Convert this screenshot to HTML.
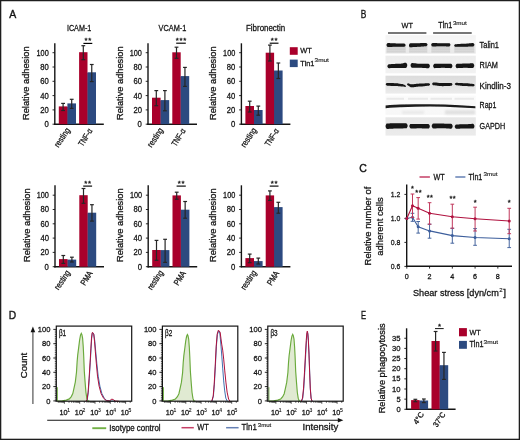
<!DOCTYPE html>
<html><head><meta charset="utf-8"><style>
html,body{margin:0;padding:0;background:#fff;}
svg{display:block;font-family:"Liberation Sans", sans-serif;filter:blur(0.35px);}
text{stroke:#141414;stroke-width:0.28px;}
</style></head><body>
<svg width="520" height="440" viewBox="0 0 520 440">
<rect width="520" height="440" fill="#fff"/>
<rect x="0.65" y="0.6" width="518.7" height="438.75" fill="none" stroke="#1e1e1e" stroke-width="1.3"/>
<text x="9.25" y="17.60" font-size="11.8" text-anchor="start" fill="#141414" textLength="7.00" lengthAdjust="spacingAndGlyphs" style="stroke-width:0.4px">A</text>
<text x="360.75" y="17.90" font-size="11.8" text-anchor="start" fill="#141414" textLength="5.60" lengthAdjust="spacingAndGlyphs" style="stroke-width:0.4px">B</text>
<text x="359.15" y="171.90" font-size="11.8" text-anchor="start" fill="#141414" textLength="7.60" lengthAdjust="spacingAndGlyphs" style="stroke-width:0.4px">C</text>
<text x="8.85" y="318.70" font-size="11.8" text-anchor="start" fill="#141414" textLength="7.40" lengthAdjust="spacingAndGlyphs" style="stroke-width:0.4px">D</text>
<text x="360.95" y="318.70" font-size="11.8" text-anchor="start" fill="#141414" textLength="5.10" lengthAdjust="spacingAndGlyphs" style="stroke-width:0.4px">E</text>
<line x1="54.80" y1="43.30" x2="54.80" y2="124.90" stroke="#141414" stroke-width="1.4"/>
<line x1="54.10" y1="124.20" x2="103.80" y2="124.20" stroke="#141414" stroke-width="1.4"/>
<line x1="52.50" y1="124.20" x2="54.80" y2="124.20" stroke="#141414" stroke-width="0.9"/>
<text x="48.70" y="127.10" font-size="8.3" text-anchor="end" fill="#141414" textLength="4.30" lengthAdjust="spacingAndGlyphs">0</text>
<line x1="52.50" y1="109.90" x2="54.80" y2="109.90" stroke="#141414" stroke-width="0.9"/>
<text x="48.70" y="112.80" font-size="8.3" text-anchor="end" fill="#141414" textLength="8.50" lengthAdjust="spacingAndGlyphs">20</text>
<line x1="52.50" y1="95.60" x2="54.80" y2="95.60" stroke="#141414" stroke-width="0.9"/>
<text x="48.70" y="98.50" font-size="8.3" text-anchor="end" fill="#141414" textLength="8.50" lengthAdjust="spacingAndGlyphs">40</text>
<line x1="52.50" y1="81.30" x2="54.80" y2="81.30" stroke="#141414" stroke-width="0.9"/>
<text x="48.70" y="84.20" font-size="8.3" text-anchor="end" fill="#141414" textLength="8.50" lengthAdjust="spacingAndGlyphs">60</text>
<line x1="52.50" y1="67.00" x2="54.80" y2="67.00" stroke="#141414" stroke-width="0.9"/>
<text x="48.70" y="69.90" font-size="8.3" text-anchor="end" fill="#141414" textLength="8.50" lengthAdjust="spacingAndGlyphs">80</text>
<line x1="52.50" y1="52.70" x2="54.80" y2="52.70" stroke="#141414" stroke-width="0.9"/>
<text x="48.70" y="55.60" font-size="8.3" text-anchor="end" fill="#141414" textLength="12.20" lengthAdjust="spacingAndGlyphs">100</text>
<rect x="58.80" y="106.40" width="8.60" height="17.80" fill="#a9002b"/>
<rect x="67.20" y="107.00" width="1.00" height="17.20" fill="#a9002b"/>
<rect x="67.40" y="103.40" width="8.60" height="20.80" fill="#2c4a80"/>
<rect x="79.10" y="52.20" width="8.40" height="72.00" fill="#a9002b"/>
<rect x="87.30" y="72.90" width="1.00" height="51.30" fill="#a9002b"/>
<rect x="87.50" y="72.30" width="8.50" height="51.90" fill="#2c4a80"/>
<line x1="63.10" y1="103.40" x2="63.10" y2="110.50" stroke="#262626" stroke-width="1.2"/>
<line x1="61.20" y1="103.40" x2="65.00" y2="103.40" stroke="#262626" stroke-width="1.2"/>
<line x1="61.20" y1="110.50" x2="65.00" y2="110.50" stroke="#262626" stroke-width="1.2"/>
<line x1="71.70" y1="99.30" x2="71.70" y2="108.40" stroke="#262626" stroke-width="1.2"/>
<line x1="69.80" y1="99.30" x2="73.60" y2="99.30" stroke="#262626" stroke-width="1.2"/>
<line x1="69.80" y1="108.40" x2="73.60" y2="108.40" stroke="#262626" stroke-width="1.2"/>
<line x1="83.30" y1="45.70" x2="83.30" y2="59.70" stroke="#262626" stroke-width="1.2"/>
<line x1="81.40" y1="45.70" x2="85.20" y2="45.70" stroke="#262626" stroke-width="1.2"/>
<line x1="81.40" y1="59.70" x2="85.20" y2="59.70" stroke="#262626" stroke-width="1.2"/>
<line x1="91.75" y1="64.50" x2="91.75" y2="81.60" stroke="#262626" stroke-width="1.2"/>
<line x1="89.85" y1="64.50" x2="93.65" y2="64.50" stroke="#262626" stroke-width="1.2"/>
<line x1="89.85" y1="81.60" x2="93.65" y2="81.60" stroke="#262626" stroke-width="1.2"/>
<line x1="83.40" y1="43.40" x2="92.30" y2="43.40" stroke="#000" stroke-width="1.15"/>
<text x="86.02" y="43.44" font-size="7.8" text-anchor="middle" fill="#141414">*</text>
<text x="89.67" y="43.44" font-size="7.8" text-anchor="middle" fill="#141414">*</text>
<text x="66.90" y="31.10" font-size="8.7" text-anchor="start" fill="#141414" textLength="24.40" lengthAdjust="spacingAndGlyphs">ICAM-1</text>
<text transform="translate(29.40,83.20) rotate(-90)" font-size="9.0" text-anchor="middle" fill="#141414" textLength="73.60" lengthAdjust="spacingAndGlyphs">Relative adhesion</text>
<text transform="translate(70.40,130.20) rotate(-56)" font-size="8.6" text-anchor="end" fill="#141414" textLength="21.50" lengthAdjust="spacingAndGlyphs">resting</text>
<text transform="translate(92.80,130.80) rotate(-58)" font-size="8.6" text-anchor="end" fill="#141414" textLength="19.00" lengthAdjust="spacingAndGlyphs">TNF-α</text>
<line x1="148.00" y1="43.30" x2="148.00" y2="124.90" stroke="#141414" stroke-width="1.4"/>
<line x1="147.30" y1="124.20" x2="197.00" y2="124.20" stroke="#141414" stroke-width="1.4"/>
<line x1="145.70" y1="124.20" x2="148.00" y2="124.20" stroke="#141414" stroke-width="0.9"/>
<text x="141.90" y="127.10" font-size="8.3" text-anchor="end" fill="#141414" textLength="4.30" lengthAdjust="spacingAndGlyphs">0</text>
<line x1="145.70" y1="109.90" x2="148.00" y2="109.90" stroke="#141414" stroke-width="0.9"/>
<text x="141.90" y="112.80" font-size="8.3" text-anchor="end" fill="#141414" textLength="8.50" lengthAdjust="spacingAndGlyphs">20</text>
<line x1="145.70" y1="95.60" x2="148.00" y2="95.60" stroke="#141414" stroke-width="0.9"/>
<text x="141.90" y="98.50" font-size="8.3" text-anchor="end" fill="#141414" textLength="8.50" lengthAdjust="spacingAndGlyphs">40</text>
<line x1="145.70" y1="81.30" x2="148.00" y2="81.30" stroke="#141414" stroke-width="0.9"/>
<text x="141.90" y="84.20" font-size="8.3" text-anchor="end" fill="#141414" textLength="8.50" lengthAdjust="spacingAndGlyphs">60</text>
<line x1="145.70" y1="67.00" x2="148.00" y2="67.00" stroke="#141414" stroke-width="0.9"/>
<text x="141.90" y="69.90" font-size="8.3" text-anchor="end" fill="#141414" textLength="8.50" lengthAdjust="spacingAndGlyphs">80</text>
<line x1="145.70" y1="52.70" x2="148.00" y2="52.70" stroke="#141414" stroke-width="0.9"/>
<text x="141.90" y="55.60" font-size="8.3" text-anchor="end" fill="#141414" textLength="12.20" lengthAdjust="spacingAndGlyphs">100</text>
<rect x="152.00" y="97.70" width="8.60" height="26.50" fill="#a9002b"/>
<rect x="160.40" y="100.70" width="1.00" height="23.50" fill="#a9002b"/>
<rect x="160.60" y="100.10" width="8.60" height="24.10" fill="#2c4a80"/>
<rect x="172.30" y="52.30" width="8.40" height="71.90" fill="#a9002b"/>
<rect x="180.50" y="76.70" width="1.00" height="47.50" fill="#a9002b"/>
<rect x="180.70" y="76.10" width="8.50" height="48.10" fill="#2c4a80"/>
<line x1="156.30" y1="90.60" x2="156.30" y2="105.70" stroke="#262626" stroke-width="1.2"/>
<line x1="154.40" y1="90.60" x2="158.20" y2="90.60" stroke="#262626" stroke-width="1.2"/>
<line x1="154.40" y1="105.70" x2="158.20" y2="105.70" stroke="#262626" stroke-width="1.2"/>
<line x1="164.90" y1="90.60" x2="164.90" y2="110.80" stroke="#262626" stroke-width="1.2"/>
<line x1="163.00" y1="90.60" x2="166.80" y2="90.60" stroke="#262626" stroke-width="1.2"/>
<line x1="163.00" y1="110.80" x2="166.80" y2="110.80" stroke="#262626" stroke-width="1.2"/>
<line x1="176.50" y1="47.20" x2="176.50" y2="58.30" stroke="#262626" stroke-width="1.2"/>
<line x1="174.60" y1="47.20" x2="178.40" y2="47.20" stroke="#262626" stroke-width="1.2"/>
<line x1="174.60" y1="58.30" x2="178.40" y2="58.30" stroke="#262626" stroke-width="1.2"/>
<line x1="184.95" y1="67.40" x2="184.95" y2="86.40" stroke="#262626" stroke-width="1.2"/>
<line x1="183.05" y1="67.40" x2="186.85" y2="67.40" stroke="#262626" stroke-width="1.2"/>
<line x1="183.05" y1="86.40" x2="186.85" y2="86.40" stroke="#262626" stroke-width="1.2"/>
<line x1="176.20" y1="43.20" x2="185.80" y2="43.20" stroke="#000" stroke-width="1.15"/>
<text x="177.35" y="43.24" font-size="7.8" text-anchor="middle" fill="#141414">*</text>
<text x="181.00" y="43.24" font-size="7.8" text-anchor="middle" fill="#141414">*</text>
<text x="184.65" y="43.24" font-size="7.8" text-anchor="middle" fill="#141414">*</text>
<text x="158.50" y="31.10" font-size="8.7" text-anchor="start" fill="#141414" textLength="27.80" lengthAdjust="spacingAndGlyphs">VCAM-1</text>
<text transform="translate(122.60,83.20) rotate(-90)" font-size="9.0" text-anchor="middle" fill="#141414" textLength="73.60" lengthAdjust="spacingAndGlyphs">Relative adhesion</text>
<text transform="translate(163.60,130.20) rotate(-56)" font-size="8.6" text-anchor="end" fill="#141414" textLength="21.50" lengthAdjust="spacingAndGlyphs">resting</text>
<text transform="translate(186.00,130.80) rotate(-58)" font-size="8.6" text-anchor="end" fill="#141414" textLength="19.00" lengthAdjust="spacingAndGlyphs">TNF-α</text>
<line x1="241.40" y1="43.30" x2="241.40" y2="124.90" stroke="#141414" stroke-width="1.4"/>
<line x1="240.70" y1="124.20" x2="290.40" y2="124.20" stroke="#141414" stroke-width="1.4"/>
<line x1="239.10" y1="124.20" x2="241.40" y2="124.20" stroke="#141414" stroke-width="0.9"/>
<text x="235.30" y="127.10" font-size="8.3" text-anchor="end" fill="#141414" textLength="4.30" lengthAdjust="spacingAndGlyphs">0</text>
<line x1="239.10" y1="109.90" x2="241.40" y2="109.90" stroke="#141414" stroke-width="0.9"/>
<text x="235.30" y="112.80" font-size="8.3" text-anchor="end" fill="#141414" textLength="8.50" lengthAdjust="spacingAndGlyphs">20</text>
<line x1="239.10" y1="95.60" x2="241.40" y2="95.60" stroke="#141414" stroke-width="0.9"/>
<text x="235.30" y="98.50" font-size="8.3" text-anchor="end" fill="#141414" textLength="8.50" lengthAdjust="spacingAndGlyphs">40</text>
<line x1="239.10" y1="81.30" x2="241.40" y2="81.30" stroke="#141414" stroke-width="0.9"/>
<text x="235.30" y="84.20" font-size="8.3" text-anchor="end" fill="#141414" textLength="8.50" lengthAdjust="spacingAndGlyphs">60</text>
<line x1="239.10" y1="67.00" x2="241.40" y2="67.00" stroke="#141414" stroke-width="0.9"/>
<text x="235.30" y="69.90" font-size="8.3" text-anchor="end" fill="#141414" textLength="8.50" lengthAdjust="spacingAndGlyphs">80</text>
<line x1="239.10" y1="52.70" x2="241.40" y2="52.70" stroke="#141414" stroke-width="0.9"/>
<text x="235.30" y="55.60" font-size="8.3" text-anchor="end" fill="#141414" textLength="12.20" lengthAdjust="spacingAndGlyphs">100</text>
<rect x="245.40" y="106.00" width="8.60" height="18.20" fill="#a9002b"/>
<rect x="253.80" y="110.60" width="1.00" height="13.60" fill="#a9002b"/>
<rect x="254.00" y="110.00" width="8.60" height="14.20" fill="#2c4a80"/>
<rect x="265.70" y="52.70" width="8.40" height="71.50" fill="#a9002b"/>
<rect x="273.90" y="71.10" width="1.00" height="53.10" fill="#a9002b"/>
<rect x="274.10" y="70.50" width="8.50" height="53.70" fill="#2c4a80"/>
<line x1="249.70" y1="101.20" x2="249.70" y2="112.00" stroke="#262626" stroke-width="1.2"/>
<line x1="247.80" y1="101.20" x2="251.60" y2="101.20" stroke="#262626" stroke-width="1.2"/>
<line x1="247.80" y1="112.00" x2="251.60" y2="112.00" stroke="#262626" stroke-width="1.2"/>
<line x1="258.30" y1="106.10" x2="258.30" y2="115.20" stroke="#262626" stroke-width="1.2"/>
<line x1="256.40" y1="106.10" x2="260.20" y2="106.10" stroke="#262626" stroke-width="1.2"/>
<line x1="256.40" y1="115.20" x2="260.20" y2="115.20" stroke="#262626" stroke-width="1.2"/>
<line x1="269.90" y1="45.10" x2="269.90" y2="61.00" stroke="#262626" stroke-width="1.2"/>
<line x1="268.00" y1="45.10" x2="271.80" y2="45.10" stroke="#262626" stroke-width="1.2"/>
<line x1="268.00" y1="61.00" x2="271.80" y2="61.00" stroke="#262626" stroke-width="1.2"/>
<line x1="278.35" y1="63.00" x2="278.35" y2="78.50" stroke="#262626" stroke-width="1.2"/>
<line x1="276.45" y1="63.00" x2="280.25" y2="63.00" stroke="#262626" stroke-width="1.2"/>
<line x1="276.45" y1="78.50" x2="280.25" y2="78.50" stroke="#262626" stroke-width="1.2"/>
<line x1="269.70" y1="43.20" x2="278.50" y2="43.20" stroke="#000" stroke-width="1.15"/>
<text x="272.28" y="43.24" font-size="7.8" text-anchor="middle" fill="#141414">*</text>
<text x="275.93" y="43.24" font-size="7.8" text-anchor="middle" fill="#141414">*</text>
<text x="246.00" y="31.10" font-size="8.7" text-anchor="start" fill="#141414" textLength="39.20" lengthAdjust="spacingAndGlyphs">Fibronectin</text>
<text transform="translate(216.00,83.20) rotate(-90)" font-size="9.0" text-anchor="middle" fill="#141414" textLength="73.60" lengthAdjust="spacingAndGlyphs">Relative adhesion</text>
<text transform="translate(257.00,130.20) rotate(-56)" font-size="8.6" text-anchor="end" fill="#141414" textLength="21.50" lengthAdjust="spacingAndGlyphs">resting</text>
<text transform="translate(279.40,130.80) rotate(-58)" font-size="8.6" text-anchor="end" fill="#141414" textLength="19.00" lengthAdjust="spacingAndGlyphs">TNF-α</text>
<line x1="55.00" y1="185.30" x2="55.00" y2="267.40" stroke="#141414" stroke-width="1.4"/>
<line x1="54.30" y1="266.70" x2="104.00" y2="266.70" stroke="#141414" stroke-width="1.4"/>
<line x1="52.70" y1="266.70" x2="55.00" y2="266.70" stroke="#141414" stroke-width="0.9"/>
<text x="48.90" y="269.60" font-size="8.3" text-anchor="end" fill="#141414" textLength="4.30" lengthAdjust="spacingAndGlyphs">0</text>
<line x1="52.70" y1="252.40" x2="55.00" y2="252.40" stroke="#141414" stroke-width="0.9"/>
<text x="48.90" y="255.30" font-size="8.3" text-anchor="end" fill="#141414" textLength="8.50" lengthAdjust="spacingAndGlyphs">20</text>
<line x1="52.70" y1="238.10" x2="55.00" y2="238.10" stroke="#141414" stroke-width="0.9"/>
<text x="48.90" y="241.00" font-size="8.3" text-anchor="end" fill="#141414" textLength="8.50" lengthAdjust="spacingAndGlyphs">40</text>
<line x1="52.70" y1="223.80" x2="55.00" y2="223.80" stroke="#141414" stroke-width="0.9"/>
<text x="48.90" y="226.70" font-size="8.3" text-anchor="end" fill="#141414" textLength="8.50" lengthAdjust="spacingAndGlyphs">60</text>
<line x1="52.70" y1="209.50" x2="55.00" y2="209.50" stroke="#141414" stroke-width="0.9"/>
<text x="48.90" y="212.40" font-size="8.3" text-anchor="end" fill="#141414" textLength="8.50" lengthAdjust="spacingAndGlyphs">80</text>
<line x1="52.70" y1="195.20" x2="55.00" y2="195.20" stroke="#141414" stroke-width="0.9"/>
<text x="48.90" y="198.10" font-size="8.3" text-anchor="end" fill="#141414" textLength="12.20" lengthAdjust="spacingAndGlyphs">100</text>
<rect x="59.00" y="259.10" width="8.60" height="7.60" fill="#a9002b"/>
<rect x="67.40" y="260.20" width="1.00" height="6.50" fill="#a9002b"/>
<rect x="67.60" y="259.60" width="8.60" height="7.10" fill="#2c4a80"/>
<rect x="79.30" y="195.20" width="8.40" height="71.50" fill="#a9002b"/>
<rect x="87.50" y="213.30" width="1.00" height="53.40" fill="#a9002b"/>
<rect x="87.70" y="212.70" width="8.50" height="54.00" fill="#2c4a80"/>
<line x1="63.30" y1="255.50" x2="63.30" y2="263.40" stroke="#262626" stroke-width="1.2"/>
<line x1="61.40" y1="255.50" x2="65.20" y2="255.50" stroke="#262626" stroke-width="1.2"/>
<line x1="61.40" y1="263.40" x2="65.20" y2="263.40" stroke="#262626" stroke-width="1.2"/>
<line x1="71.90" y1="257.20" x2="71.90" y2="262.00" stroke="#262626" stroke-width="1.2"/>
<line x1="70.00" y1="257.20" x2="73.80" y2="257.20" stroke="#262626" stroke-width="1.2"/>
<line x1="70.00" y1="262.00" x2="73.80" y2="262.00" stroke="#262626" stroke-width="1.2"/>
<line x1="83.50" y1="188.50" x2="83.50" y2="203.30" stroke="#262626" stroke-width="1.2"/>
<line x1="81.60" y1="188.50" x2="85.40" y2="188.50" stroke="#262626" stroke-width="1.2"/>
<line x1="81.60" y1="203.30" x2="85.40" y2="203.30" stroke="#262626" stroke-width="1.2"/>
<line x1="91.95" y1="204.70" x2="91.95" y2="221.10" stroke="#262626" stroke-width="1.2"/>
<line x1="90.05" y1="204.70" x2="93.85" y2="204.70" stroke="#262626" stroke-width="1.2"/>
<line x1="90.05" y1="221.10" x2="93.85" y2="221.10" stroke="#262626" stroke-width="1.2"/>
<line x1="83.20" y1="186.10" x2="92.10" y2="186.10" stroke="#000" stroke-width="1.15"/>
<text x="85.83" y="186.14" font-size="7.8" text-anchor="middle" fill="#141414">*</text>
<text x="89.48" y="186.14" font-size="7.8" text-anchor="middle" fill="#141414">*</text>
<text x="0.00" y="173.60" font-size="8.7" text-anchor="start" fill="#141414" textLength="1.00" lengthAdjust="spacingAndGlyphs"></text>
<text transform="translate(29.60,225.20) rotate(-90)" font-size="9.0" text-anchor="middle" fill="#141414" textLength="73.60" lengthAdjust="spacingAndGlyphs">Relative adhesion</text>
<text transform="translate(70.60,272.70) rotate(-56)" font-size="8.6" text-anchor="end" fill="#141414" textLength="21.50" lengthAdjust="spacingAndGlyphs">resting</text>
<text transform="translate(93.00,273.30) rotate(-58)" font-size="8.6" text-anchor="end" fill="#141414" textLength="15.00" lengthAdjust="spacingAndGlyphs">PMA</text>
<line x1="148.20" y1="185.30" x2="148.20" y2="267.40" stroke="#141414" stroke-width="1.4"/>
<line x1="147.50" y1="266.70" x2="197.20" y2="266.70" stroke="#141414" stroke-width="1.4"/>
<line x1="145.90" y1="266.70" x2="148.20" y2="266.70" stroke="#141414" stroke-width="0.9"/>
<text x="142.10" y="269.60" font-size="8.3" text-anchor="end" fill="#141414" textLength="4.30" lengthAdjust="spacingAndGlyphs">0</text>
<line x1="145.90" y1="252.40" x2="148.20" y2="252.40" stroke="#141414" stroke-width="0.9"/>
<text x="142.10" y="255.30" font-size="8.3" text-anchor="end" fill="#141414" textLength="8.50" lengthAdjust="spacingAndGlyphs">20</text>
<line x1="145.90" y1="238.10" x2="148.20" y2="238.10" stroke="#141414" stroke-width="0.9"/>
<text x="142.10" y="241.00" font-size="8.3" text-anchor="end" fill="#141414" textLength="8.50" lengthAdjust="spacingAndGlyphs">40</text>
<line x1="145.90" y1="223.80" x2="148.20" y2="223.80" stroke="#141414" stroke-width="0.9"/>
<text x="142.10" y="226.70" font-size="8.3" text-anchor="end" fill="#141414" textLength="8.50" lengthAdjust="spacingAndGlyphs">60</text>
<line x1="145.90" y1="209.50" x2="148.20" y2="209.50" stroke="#141414" stroke-width="0.9"/>
<text x="142.10" y="212.40" font-size="8.3" text-anchor="end" fill="#141414" textLength="8.50" lengthAdjust="spacingAndGlyphs">80</text>
<line x1="145.90" y1="195.20" x2="148.20" y2="195.20" stroke="#141414" stroke-width="0.9"/>
<text x="142.10" y="198.10" font-size="8.3" text-anchor="end" fill="#141414" textLength="12.20" lengthAdjust="spacingAndGlyphs">100</text>
<rect x="152.20" y="250.00" width="8.60" height="16.70" fill="#a9002b"/>
<rect x="160.60" y="250.70" width="1.00" height="16.00" fill="#a9002b"/>
<rect x="160.80" y="250.10" width="8.60" height="16.60" fill="#2c4a80"/>
<rect x="172.50" y="195.40" width="8.40" height="71.30" fill="#a9002b"/>
<rect x="180.70" y="210.30" width="1.00" height="56.40" fill="#a9002b"/>
<rect x="180.90" y="209.70" width="8.50" height="57.00" fill="#2c4a80"/>
<line x1="156.50" y1="240.40" x2="156.50" y2="260.30" stroke="#262626" stroke-width="1.2"/>
<line x1="154.60" y1="240.40" x2="158.40" y2="240.40" stroke="#262626" stroke-width="1.2"/>
<line x1="154.60" y1="260.30" x2="158.40" y2="260.30" stroke="#262626" stroke-width="1.2"/>
<line x1="165.10" y1="239.30" x2="165.10" y2="262.40" stroke="#262626" stroke-width="1.2"/>
<line x1="163.20" y1="239.30" x2="167.00" y2="239.30" stroke="#262626" stroke-width="1.2"/>
<line x1="163.20" y1="262.40" x2="167.00" y2="262.40" stroke="#262626" stroke-width="1.2"/>
<line x1="176.70" y1="192.20" x2="176.70" y2="199.20" stroke="#262626" stroke-width="1.2"/>
<line x1="174.80" y1="192.20" x2="178.60" y2="192.20" stroke="#262626" stroke-width="1.2"/>
<line x1="174.80" y1="199.20" x2="178.60" y2="199.20" stroke="#262626" stroke-width="1.2"/>
<line x1="185.15" y1="201.50" x2="185.15" y2="218.20" stroke="#262626" stroke-width="1.2"/>
<line x1="183.25" y1="201.50" x2="187.05" y2="201.50" stroke="#262626" stroke-width="1.2"/>
<line x1="183.25" y1="218.20" x2="187.05" y2="218.20" stroke="#262626" stroke-width="1.2"/>
<line x1="176.60" y1="186.10" x2="185.80" y2="186.10" stroke="#000" stroke-width="1.15"/>
<text x="179.38" y="186.14" font-size="7.8" text-anchor="middle" fill="#141414">*</text>
<text x="183.02" y="186.14" font-size="7.8" text-anchor="middle" fill="#141414">*</text>
<text x="0.00" y="173.60" font-size="8.7" text-anchor="start" fill="#141414" textLength="1.00" lengthAdjust="spacingAndGlyphs"></text>
<text transform="translate(122.80,225.20) rotate(-90)" font-size="9.0" text-anchor="middle" fill="#141414" textLength="73.60" lengthAdjust="spacingAndGlyphs">Relative adhesion</text>
<text transform="translate(163.80,272.70) rotate(-56)" font-size="8.6" text-anchor="end" fill="#141414" textLength="21.50" lengthAdjust="spacingAndGlyphs">resting</text>
<text transform="translate(186.20,273.30) rotate(-58)" font-size="8.6" text-anchor="end" fill="#141414" textLength="15.00" lengthAdjust="spacingAndGlyphs">PMA</text>
<line x1="241.40" y1="185.30" x2="241.40" y2="267.40" stroke="#141414" stroke-width="1.4"/>
<line x1="240.70" y1="266.70" x2="290.40" y2="266.70" stroke="#141414" stroke-width="1.4"/>
<line x1="239.10" y1="266.70" x2="241.40" y2="266.70" stroke="#141414" stroke-width="0.9"/>
<text x="235.30" y="269.60" font-size="8.3" text-anchor="end" fill="#141414" textLength="4.30" lengthAdjust="spacingAndGlyphs">0</text>
<line x1="239.10" y1="252.40" x2="241.40" y2="252.40" stroke="#141414" stroke-width="0.9"/>
<text x="235.30" y="255.30" font-size="8.3" text-anchor="end" fill="#141414" textLength="8.50" lengthAdjust="spacingAndGlyphs">20</text>
<line x1="239.10" y1="238.10" x2="241.40" y2="238.10" stroke="#141414" stroke-width="0.9"/>
<text x="235.30" y="241.00" font-size="8.3" text-anchor="end" fill="#141414" textLength="8.50" lengthAdjust="spacingAndGlyphs">40</text>
<line x1="239.10" y1="223.80" x2="241.40" y2="223.80" stroke="#141414" stroke-width="0.9"/>
<text x="235.30" y="226.70" font-size="8.3" text-anchor="end" fill="#141414" textLength="8.50" lengthAdjust="spacingAndGlyphs">60</text>
<line x1="239.10" y1="209.50" x2="241.40" y2="209.50" stroke="#141414" stroke-width="0.9"/>
<text x="235.30" y="212.40" font-size="8.3" text-anchor="end" fill="#141414" textLength="8.50" lengthAdjust="spacingAndGlyphs">80</text>
<line x1="239.10" y1="195.20" x2="241.40" y2="195.20" stroke="#141414" stroke-width="0.9"/>
<text x="235.30" y="198.10" font-size="8.3" text-anchor="end" fill="#141414" textLength="12.20" lengthAdjust="spacingAndGlyphs">100</text>
<rect x="245.40" y="258.10" width="8.60" height="8.60" fill="#a9002b"/>
<rect x="253.80" y="261.70" width="1.00" height="5.00" fill="#a9002b"/>
<rect x="254.00" y="261.10" width="8.60" height="5.60" fill="#2c4a80"/>
<rect x="265.70" y="195.40" width="8.40" height="71.30" fill="#a9002b"/>
<rect x="273.90" y="207.70" width="1.00" height="59.00" fill="#a9002b"/>
<rect x="274.10" y="207.10" width="8.50" height="59.60" fill="#2c4a80"/>
<line x1="249.70" y1="254.10" x2="249.70" y2="262.70" stroke="#262626" stroke-width="1.2"/>
<line x1="247.80" y1="254.10" x2="251.60" y2="254.10" stroke="#262626" stroke-width="1.2"/>
<line x1="247.80" y1="262.70" x2="251.60" y2="262.70" stroke="#262626" stroke-width="1.2"/>
<line x1="258.30" y1="258.10" x2="258.30" y2="264.00" stroke="#262626" stroke-width="1.2"/>
<line x1="256.40" y1="258.10" x2="260.20" y2="258.10" stroke="#262626" stroke-width="1.2"/>
<line x1="256.40" y1="264.00" x2="260.20" y2="264.00" stroke="#262626" stroke-width="1.2"/>
<line x1="269.90" y1="190.90" x2="269.90" y2="200.40" stroke="#262626" stroke-width="1.2"/>
<line x1="268.00" y1="190.90" x2="271.80" y2="190.90" stroke="#262626" stroke-width="1.2"/>
<line x1="268.00" y1="200.40" x2="271.80" y2="200.40" stroke="#262626" stroke-width="1.2"/>
<line x1="278.35" y1="202.30" x2="278.35" y2="213.20" stroke="#262626" stroke-width="1.2"/>
<line x1="276.45" y1="202.30" x2="280.25" y2="202.30" stroke="#262626" stroke-width="1.2"/>
<line x1="276.45" y1="213.20" x2="280.25" y2="213.20" stroke="#262626" stroke-width="1.2"/>
<line x1="269.70" y1="186.10" x2="278.50" y2="186.10" stroke="#000" stroke-width="1.15"/>
<text x="272.28" y="186.14" font-size="7.8" text-anchor="middle" fill="#141414">*</text>
<text x="275.93" y="186.14" font-size="7.8" text-anchor="middle" fill="#141414">*</text>
<text x="0.00" y="173.60" font-size="8.7" text-anchor="start" fill="#141414" textLength="1.00" lengthAdjust="spacingAndGlyphs"></text>
<text transform="translate(216.00,225.20) rotate(-90)" font-size="9.0" text-anchor="middle" fill="#141414" textLength="73.60" lengthAdjust="spacingAndGlyphs">Relative adhesion</text>
<text transform="translate(257.00,272.70) rotate(-56)" font-size="8.6" text-anchor="end" fill="#141414" textLength="21.50" lengthAdjust="spacingAndGlyphs">resting</text>
<text transform="translate(279.40,273.30) rotate(-58)" font-size="8.6" text-anchor="end" fill="#141414" textLength="15.00" lengthAdjust="spacingAndGlyphs">PMA</text>
<rect x="289.80" y="47.20" width="7.90" height="7.60" fill="#a9002b"/>
<rect x="289.80" y="59.60" width="7.90" height="7.50" fill="#2c4a80"/>
<text x="300.20" y="53.40" font-size="7.9" text-anchor="start" fill="#141414" textLength="11.60" lengthAdjust="spacingAndGlyphs">WT</text>
<text x="300.20" y="65.50" font-size="7.7" text-anchor="start" fill="#141414" textLength="14.20" lengthAdjust="spacingAndGlyphs">Tln1</text>
<text x="314.60" y="62.40" font-size="5.4" text-anchor="start" fill="#141414" textLength="14.20" lengthAdjust="spacingAndGlyphs" style="stroke-width:0.12px">3mut</text>
<text x="401.50" y="27.60" font-size="8.1" text-anchor="start" fill="#141414" textLength="11.40" lengthAdjust="spacingAndGlyphs">WT</text>
<text x="438.30" y="27.70" font-size="8.6" text-anchor="start" fill="#141414" textLength="13.80" lengthAdjust="spacingAndGlyphs">Tln1</text>
<text x="452.90" y="24.80" font-size="5.4" text-anchor="start" fill="#141414" textLength="13.90" lengthAdjust="spacingAndGlyphs" style="stroke-width:0.12px">3mut</text>
<line x1="388.00" y1="33.00" x2="426.40" y2="33.00" stroke="#4a4a4a" stroke-width="1.6"/>
<line x1="433.10" y1="33.00" x2="471.70" y2="33.00" stroke="#4a4a4a" stroke-width="1.6"/>
<defs>
<filter id="bl" x="-10%" y="-50%" width="120%" height="200%"><feGaussianBlur stdDeviation="0.75"/></filter>
<filter id="bl2" x="-10%" y="-50%" width="120%" height="200%"><feGaussianBlur stdDeviation="1.0"/></filter>
<linearGradient id="sm" x1="0" y1="0" x2="0" y2="1"><stop offset="0" stop-color="#c4c4c4"/><stop offset="0.3" stop-color="#d8d8d8"/><stop offset="0.45" stop-color="#cdcdcd"/><stop offset="0.6" stop-color="#dadada"/><stop offset="0.85" stop-color="#d0d0d0"/><stop offset="1" stop-color="#e4e4e4"/></linearGradient>
<linearGradient id="g1" x1="0" y1="0" x2="0" y2="1"><stop offset="0" stop-color="#f4f4f4"/><stop offset="0.35" stop-color="#f7f7f7"/><stop offset="0.6" stop-color="#eeeeee"/><stop offset="1" stop-color="#e8e8e8"/></linearGradient>
<linearGradient id="g2" x1="0" y1="0" x2="0" y2="1"><stop offset="0" stop-color="#ececec"/><stop offset="1" stop-color="#f2f2f2"/></linearGradient>
<linearGradient id="g3" x1="0" y1="0" x2="0" y2="1"><stop offset="0" stop-color="#dcdcdc"/><stop offset="0.6" stop-color="#e4e4e4"/><stop offset="1" stop-color="#ececec"/></linearGradient>
<linearGradient id="g4" x1="0" y1="0" x2="0" y2="1"><stop offset="0" stop-color="#fbfbfb"/><stop offset="1" stop-color="#f7f7f7"/></linearGradient>
<linearGradient id="g5" x1="0" y1="0" x2="0" y2="1"><stop offset="0" stop-color="#e6e6e6"/><stop offset="1" stop-color="#ebebeb"/></linearGradient>
</defs>
<rect x="385.50" y="35.20" width="90.30" height="18.40" fill="url(#g1)"/>
<text x="479.60" y="47.70" font-size="8.7" text-anchor="start" fill="#141414" textLength="19.40" lengthAdjust="spacingAndGlyphs">Talin1</text>
<rect x="385.50" y="55.70" width="90.30" height="17.60" fill="url(#g2)"/>
<text x="479.60" y="67.70" font-size="8.7" text-anchor="start" fill="#141414" textLength="18.30" lengthAdjust="spacingAndGlyphs">RIAM</text>
<rect x="385.50" y="75.70" width="90.30" height="17.90" fill="url(#g3)"/>
<text x="479.60" y="88.60" font-size="8.7" text-anchor="start" fill="#141414" textLength="31.40" lengthAdjust="spacingAndGlyphs">Kindlin-3</text>
<rect x="385.50" y="95.60" width="90.30" height="19.20" fill="url(#g4)"/>
<text x="479.60" y="108.40" font-size="8.7" text-anchor="start" fill="#141414" textLength="16.70" lengthAdjust="spacingAndGlyphs">Rap1</text>
<rect x="385.50" y="117.30" width="90.30" height="18.30" fill="url(#g5)"/>
<text x="479.60" y="128.90" font-size="8.7" text-anchor="start" fill="#141414" textLength="25.70" lengthAdjust="spacingAndGlyphs">GAPDH</text>
<rect x="386.60" y="46.0" width="19.10" height="7.0" fill="url(#sm)" filter="url(#bl)"/>
<rect x="409.10" y="46.0" width="18.20" height="7.0" fill="url(#sm)" filter="url(#bl)"/>
<rect x="431.30" y="46.0" width="18.80" height="7.0" fill="url(#sm)" filter="url(#bl)"/>
<rect x="454.30" y="46.0" width="20.00" height="7.0" fill="url(#sm)" filter="url(#bl)"/>
<path d="M386.50,44.44 L387.30,43.24 L388.09,43.04 L388.89,43.07 L389.68,43.11 L390.48,43.15 L391.27,43.20 L392.07,43.25 L392.87,43.29 L393.66,43.33 L394.46,43.36 L395.25,43.37 L396.05,43.38 L396.85,43.38 L397.64,43.39 L398.44,43.39 L399.23,43.40 L400.03,43.41 L400.83,43.42 L401.62,43.43 L402.42,43.44 L403.21,43.45 L404.01,43.46 L404.80,43.64 L405.60,44.64 L405.60,45.56 L404.80,46.56 L404.01,46.74 L403.21,46.75 L402.42,46.76 L401.62,46.77 L400.83,46.78 L400.03,46.79 L399.23,46.80 L398.44,46.81 L397.64,46.81 L396.85,46.82 L396.05,46.82 L395.25,46.82 L394.46,46.83 L393.66,46.84 L392.87,46.86 L392.07,46.88 L391.27,46.90 L390.48,46.92 L389.68,46.94 L388.89,46.96 L388.09,46.97 L387.30,46.76 L386.50,45.56 Z" fill="#161616" filter="url(#bl)"/>
<path d="M409.00,44.82 L409.77,43.58 L410.54,43.32 L411.31,43.30 L412.08,43.29 L412.85,43.27 L413.62,43.26 L414.40,43.25 L415.17,43.25 L415.94,43.24 L416.71,43.23 L417.48,43.22 L418.25,43.20 L419.02,43.17 L419.79,43.15 L420.56,43.12 L421.33,43.10 L422.10,43.07 L422.88,43.05 L423.65,43.02 L424.42,43.00 L425.19,42.99 L425.96,42.97 L426.73,43.17 L427.50,44.14 L427.50,45.06 L426.73,46.04 L425.96,46.26 L425.19,46.29 L424.42,46.33 L423.65,46.38 L422.88,46.44 L422.10,46.50 L421.33,46.57 L420.56,46.63 L419.79,46.70 L419.02,46.76 L418.25,46.82 L417.48,46.86 L416.71,46.90 L415.94,46.93 L415.17,46.95 L414.40,46.95 L413.62,46.98 L412.85,47.06 L412.08,47.16 L411.31,47.27 L410.54,47.37 L409.77,47.19 L409.00,45.98 Z" fill="#161616" filter="url(#bl)"/>
<path d="M431.20,44.31 L432.00,43.26 L432.80,43.08 L433.60,43.09 L434.40,43.10 L435.20,43.11 L436.00,43.12 L436.80,43.12 L437.60,43.13 L438.40,43.14 L439.20,43.15 L440.00,43.15 L440.80,43.15 L441.60,43.15 L442.40,43.15 L443.20,43.15 L444.00,43.14 L444.80,43.14 L445.60,43.14 L446.40,43.13 L447.20,43.13 L448.00,43.13 L448.80,43.13 L449.60,43.30 L450.40,44.33 L450.40,45.27 L449.60,46.29 L448.80,46.46 L448.00,46.44 L447.20,46.42 L446.40,46.39 L445.60,46.36 L444.80,46.33 L444.00,46.31 L443.20,46.28 L442.40,46.27 L441.60,46.25 L440.80,46.25 L440.00,46.25 L439.20,46.27 L438.40,46.29 L437.60,46.32 L436.80,46.35 L436.00,46.38 L435.20,46.42 L434.40,46.45 L433.60,46.48 L432.80,46.50 L432.00,46.33 L431.20,45.29 Z" fill="#161616" filter="url(#bl)"/>
<path d="M454.20,45.14 L455.04,44.31 L455.88,44.18 L456.72,44.13 L457.57,44.08 L458.41,44.02 L459.25,43.95 L460.09,43.89 L460.93,43.82 L461.77,43.77 L462.62,43.73 L463.46,43.70 L464.30,43.70 L465.14,43.68 L465.98,43.65 L466.82,43.59 L467.67,43.52 L468.51,43.43 L469.35,43.34 L470.19,43.24 L471.03,43.16 L471.88,43.08 L472.72,43.03 L473.56,43.13 L474.40,44.21 L474.40,45.19 L473.56,46.28 L472.72,46.44 L471.88,46.46 L471.03,46.49 L470.19,46.53 L469.35,46.56 L468.51,46.60 L467.67,46.63 L466.82,46.66 L465.98,46.69 L465.14,46.70 L464.30,46.71 L463.46,46.71 L462.62,46.71 L461.77,46.72 L460.93,46.73 L460.09,46.74 L459.25,46.75 L458.41,46.76 L457.57,46.77 L456.72,46.78 L455.88,46.78 L455.04,46.68 L454.20,45.86 Z" fill="#161616" filter="url(#bl)"/>
<path d="M387.40,65.65 L388.22,64.43 L389.05,64.24 L389.88,64.21 L390.70,64.17 L391.52,64.12 L392.35,64.07 L393.17,64.02 L394.00,63.96 L394.82,63.91 L395.65,63.86 L396.47,63.82 L397.30,63.78 L398.12,63.76 L398.95,63.75 L399.77,63.74 L400.60,63.67 L401.43,63.56 L402.25,63.40 L403.07,63.22 L403.90,63.03 L404.72,62.86 L405.55,62.73 L406.38,62.89 L407.20,64.54 L407.20,66.06 L406.38,67.75 L405.55,68.00 L404.72,68.00 L403.90,68.01 L403.07,68.02 L402.25,68.03 L401.43,68.04 L400.60,68.05 L399.77,68.05 L398.95,68.05 L398.12,68.05 L397.30,68.06 L396.47,68.06 L395.65,68.07 L394.82,68.08 L394.00,68.09 L393.17,68.10 L392.35,68.11 L391.52,68.12 L390.70,68.12 L389.88,68.13 L389.05,68.14 L388.22,67.96 L387.40,66.75 Z" fill="#161616" filter="url(#bl)"/>
<path d="M410.60,64.70 L411.40,63.20 L412.20,62.98 L413.00,63.05 L413.80,63.13 L414.60,63.23 L415.40,63.34 L416.20,63.45 L417.00,63.55 L417.80,63.63 L418.60,63.70 L419.40,63.74 L420.20,63.75 L421.00,63.75 L421.80,63.75 L422.60,63.75 L423.40,63.75 L424.20,63.75 L425.00,63.75 L425.80,63.75 L426.60,63.75 L427.40,63.75 L428.20,63.75 L429.00,63.98 L429.80,65.36 L429.80,66.64 L429.00,68.01 L428.20,68.23 L427.40,68.19 L426.60,68.15 L425.80,68.10 L425.00,68.05 L424.20,68.00 L423.40,67.95 L422.60,67.91 L421.80,67.87 L421.00,67.85 L420.20,67.84 L419.40,67.85 L418.60,67.85 L417.80,67.85 L417.00,67.85 L416.20,67.86 L415.40,67.86 L414.60,67.86 L413.80,67.87 L413.00,67.87 L412.20,67.87 L411.40,67.61 L410.60,66.10 Z" fill="#161616" filter="url(#bl)"/>
<path d="M433.20,65.39 L434.00,64.08 L434.80,63.84 L435.60,63.84 L436.40,63.83 L437.20,63.81 L438.00,63.80 L438.80,63.79 L439.60,63.78 L440.40,63.77 L441.20,63.76 L442.00,63.76 L442.80,63.75 L443.60,63.76 L444.40,63.76 L445.20,63.77 L446.00,63.78 L446.80,63.79 L447.60,63.80 L448.40,63.81 L449.20,63.83 L450.00,63.84 L450.80,63.84 L451.60,64.08 L452.40,65.39 L452.40,66.61 L451.60,67.92 L450.80,68.13 L450.00,68.11 L449.20,68.07 L448.40,68.04 L447.60,68.00 L446.80,67.96 L446.00,67.92 L445.20,67.89 L444.40,67.87 L443.60,67.85 L442.80,67.84 L442.00,67.85 L441.20,67.87 L440.40,67.89 L439.60,67.92 L438.80,67.96 L438.00,68.00 L437.20,68.04 L436.40,68.07 L435.60,68.11 L434.80,68.13 L434.00,67.92 L433.20,66.61 Z" fill="#161616" filter="url(#bl)"/>
<path d="M455.60,65.39 L456.38,64.10 L457.15,63.83 L457.93,63.81 L458.70,63.77 L459.48,63.74 L460.25,63.70 L461.03,63.66 L461.80,63.63 L462.57,63.59 L463.35,63.57 L464.12,63.56 L464.90,63.55 L465.68,63.54 L466.45,63.53 L467.23,63.50 L468.00,63.47 L468.77,63.44 L469.55,63.40 L470.32,63.35 L471.10,63.32 L471.88,63.29 L472.65,63.26 L473.43,63.53 L474.20,64.93 L474.20,66.27 L473.43,67.68 L472.65,67.95 L471.88,67.94 L471.10,67.93 L470.32,67.92 L469.55,67.91 L468.77,67.89 L468.00,67.88 L467.23,67.87 L466.45,67.86 L465.68,67.85 L464.90,67.85 L464.12,67.86 L463.35,67.87 L462.57,67.89 L461.80,67.93 L461.03,67.96 L460.25,68.00 L459.48,68.04 L458.70,68.08 L457.93,68.11 L457.15,68.13 L456.38,67.89 L455.60,66.61 Z" fill="#161616" filter="url(#bl)"/>
<path d="M385.80,83.89 L386.64,82.99 L387.48,82.89 L388.32,82.91 L389.17,82.94 L390.01,82.98 L390.85,83.01 L391.69,83.05 L392.53,83.09 L393.38,83.12 L394.22,83.14 L395.06,83.16 L395.90,83.16 L396.74,83.20 L397.58,83.31 L398.43,83.47 L399.27,83.65 L400.11,83.81 L400.95,83.93 L401.79,83.99 L402.63,84.08 L403.48,84.40 L404.32,84.82 L405.16,85.25 L406.00,85.95 L406.00,86.45 L405.16,86.94 L404.32,86.83 L403.48,86.62 L402.63,86.46 L401.79,86.41 L400.95,86.38 L400.11,86.33 L399.27,86.26 L398.43,86.17 L397.58,86.10 L396.74,86.05 L395.90,86.03 L395.06,86.03 L394.22,86.01 L393.38,85.99 L392.53,85.96 L391.69,85.92 L390.85,85.88 L390.01,85.85 L389.17,85.81 L388.32,85.78 L387.48,85.76 L386.64,85.62 L385.80,84.71 Z" fill="#161616" filter="url(#bl)"/>
<path d="M407.00,83.92 L407.96,83.34 L408.92,83.60 L409.88,83.94 L410.83,84.19 L411.79,84.26 L412.75,84.23 L413.71,84.17 L414.67,84.09 L415.62,83.98 L416.58,83.87 L417.54,83.76 L418.50,83.67 L419.46,83.60 L420.42,83.57 L421.38,83.56 L422.33,83.53 L423.29,83.48 L424.25,83.42 L425.21,83.34 L426.17,83.26 L427.12,83.19 L428.08,83.13 L429.04,83.13 L430.00,84.03 L430.00,84.77 L429.04,85.71 L428.08,85.79 L427.12,85.87 L426.17,85.98 L425.21,86.10 L424.25,86.21 L423.29,86.31 L422.33,86.39 L421.38,86.43 L420.42,86.44 L419.46,86.48 L418.50,86.57 L417.54,86.69 L416.58,86.83 L415.62,86.98 L414.67,87.11 L413.71,87.23 L412.75,87.31 L411.79,87.34 L410.83,87.20 L409.88,86.68 L408.92,85.99 L407.96,85.39 L407.00,84.48 Z" fill="#161616" filter="url(#bl)"/>
<path d="M432.20,83.39 L433.04,82.50 L433.88,82.41 L434.72,82.47 L435.57,82.54 L436.41,82.62 L437.25,82.71 L438.09,82.80 L438.93,82.89 L439.77,82.96 L440.62,83.01 L441.46,83.05 L442.30,83.06 L443.14,83.06 L443.98,83.05 L444.82,83.05 L445.67,83.04 L446.51,83.02 L447.35,83.01 L448.19,83.00 L449.03,82.99 L449.88,82.98 L450.72,82.97 L451.56,83.09 L452.40,83.99 L452.40,84.81 L451.56,85.72 L450.72,85.86 L449.88,85.88 L449.03,85.91 L448.19,85.95 L447.35,85.99 L446.51,86.03 L445.67,86.06 L444.82,86.10 L443.98,86.12 L443.14,86.13 L442.30,86.14 L441.46,86.12 L440.62,86.08 L439.77,86.01 L438.93,85.91 L438.09,85.80 L437.25,85.69 L436.41,85.57 L435.57,85.46 L434.72,85.37 L433.88,85.30 L433.04,85.13 L432.20,84.21 Z" fill="#161616" filter="url(#bl)"/>
<path d="M454.80,83.66 L455.62,82.91 L456.45,82.82 L457.28,82.84 L458.10,82.88 L458.93,82.93 L459.75,82.98 L460.57,83.03 L461.40,83.07 L462.23,83.11 L463.05,83.14 L463.88,83.16 L464.70,83.16 L465.53,83.18 L466.35,83.22 L467.18,83.29 L468.00,83.37 L468.83,83.47 L469.65,83.58 L470.48,83.68 L471.30,83.78 L472.12,83.87 L472.95,83.93 L473.78,84.09 L474.60,84.86 L474.60,85.54 L473.78,86.29 L472.95,86.38 L472.12,86.36 L471.30,86.32 L470.48,86.27 L469.65,86.22 L468.83,86.17 L468.00,86.13 L467.18,86.09 L466.35,86.06 L465.53,86.04 L464.70,86.03 L463.88,86.02 L463.05,85.98 L462.23,85.91 L461.40,85.83 L460.57,85.73 L459.75,85.62 L458.93,85.52 L458.10,85.42 L457.28,85.33 L456.45,85.27 L455.62,85.11 L454.80,84.34 Z" fill="#161616" filter="url(#bl)"/>
<path d="M385.6,105.45 L390.0,105.00 L400.0,104.60 L415.0,104.30 L430.0,104.25 L445.0,104.60 L460.0,105.35 L475.4,106.20 L475.4,108.20 L460.0,107.45 L445.0,106.80 L430.0,106.55 L415.0,106.70 L400.0,107.20 L390.0,107.80 L385.6,108.35 Z" fill="#1a1a1a" filter="url(#bl)"/>
<rect x="386.50" y="97.8" width="17.50" height="2.0" fill="#dcdcdc" opacity="0.55" filter="url(#bl)"/>
<rect x="408.00" y="97.8" width="20.00" height="2.0" fill="#dcdcdc" opacity="0.55" filter="url(#bl)"/>
<rect x="430.50" y="97.8" width="21.50" height="2.0" fill="#dcdcdc" opacity="0.55" filter="url(#bl)"/>
<rect x="454.50" y="97.8" width="19.50" height="2.0" fill="#dcdcdc" opacity="0.55" filter="url(#bl)"/>
<rect x="445" y="110.2" width="30" height="4.2" fill="#d0d0d0" opacity="0.6" filter="url(#bl2)"/>
<rect x="402" y="110.6" width="22" height="3.4" fill="#e0e0e0" opacity="0.6" filter="url(#bl2)"/>
<path d="M385.60,125.42 L386.52,123.56 L387.43,123.44 L388.35,123.42 L389.27,123.40 L390.18,123.37 L391.10,123.34 L392.02,123.31 L392.93,123.29 L393.85,123.27 L394.77,123.25 L395.68,123.24 L396.60,123.23 L397.52,123.24 L398.43,123.24 L399.35,123.25 L400.27,123.25 L401.18,123.26 L402.10,123.27 L403.02,123.28 L403.93,123.29 L404.85,123.29 L405.77,123.30 L406.68,123.41 L407.60,125.09 L407.60,126.51 L406.68,128.19 L405.77,128.31 L404.85,128.33 L403.93,128.36 L403.02,128.40 L402.10,128.43 L401.18,128.46 L400.27,128.50 L399.35,128.53 L398.43,128.55 L397.52,128.56 L396.60,128.56 L395.68,128.57 L394.77,128.59 L393.85,128.62 L392.93,128.66 L392.02,128.71 L391.10,128.76 L390.18,128.81 L389.27,128.85 L388.35,128.89 L387.43,128.92 L386.52,128.83 L385.60,126.98 Z" fill="#161616" filter="url(#bl)"/>
<path d="M409.40,125.54 L410.25,124.06 L411.10,123.89 L411.95,123.90 L412.80,123.92 L413.65,123.94 L414.50,123.97 L415.35,123.99 L416.20,124.01 L417.05,124.03 L417.90,124.04 L418.75,124.05 L419.60,124.05 L420.45,124.05 L421.30,124.05 L422.15,124.04 L423.00,124.03 L423.85,124.02 L424.70,124.02 L425.55,124.01 L426.40,124.00 L427.25,123.99 L428.10,123.98 L428.95,124.16 L429.80,125.64 L429.80,126.96 L428.95,128.43 L428.10,128.60 L427.25,128.58 L426.40,128.55 L425.55,128.52 L424.70,128.49 L423.85,128.45 L423.00,128.42 L422.15,128.39 L421.30,128.37 L420.45,128.35 L419.60,128.35 L418.75,128.35 L417.90,128.36 L417.05,128.37 L416.20,128.39 L415.35,128.41 L414.50,128.44 L413.65,128.46 L412.80,128.48 L411.95,128.50 L411.10,128.51 L410.25,128.34 L409.40,126.86 Z" fill="#161616" filter="url(#bl)"/>
<path d="M431.80,125.29 L432.67,123.68 L433.53,123.51 L434.40,123.52 L435.27,123.52 L436.13,123.53 L437.00,123.54 L437.87,123.55 L438.73,123.56 L439.60,123.57 L440.47,123.57 L441.33,123.58 L442.20,123.58 L443.07,123.59 L443.93,123.60 L444.80,123.63 L445.67,123.66 L446.53,123.69 L447.40,123.73 L448.27,123.78 L449.13,123.81 L450.00,123.84 L450.87,123.87 L451.73,124.05 L452.60,125.62 L452.60,126.98 L451.73,128.54 L450.87,128.68 L450.00,128.64 L449.13,128.59 L448.27,128.53 L447.40,128.47 L446.53,128.40 L445.67,128.34 L444.80,128.29 L443.93,128.25 L443.07,128.23 L442.20,128.22 L441.33,128.22 L440.47,128.24 L439.60,128.26 L438.73,128.29 L437.87,128.32 L437.00,128.36 L436.13,128.39 L435.27,128.43 L434.40,128.45 L433.53,128.48 L432.67,128.32 L431.80,126.71 Z" fill="#161616" filter="url(#bl)"/>
<path d="M454.80,125.99 L455.62,124.65 L456.43,124.44 L457.25,124.42 L458.07,124.40 L458.88,124.38 L459.70,124.35 L460.52,124.32 L461.33,124.30 L462.15,124.28 L462.97,124.26 L463.78,124.25 L464.60,124.25 L465.42,124.24 L466.23,124.22 L467.05,124.18 L467.87,124.14 L468.68,124.08 L469.50,124.02 L470.32,123.96 L471.13,123.91 L471.95,123.86 L472.77,123.82 L473.58,124.03 L474.40,125.52 L474.40,126.88 L473.58,128.38 L472.77,128.61 L471.95,128.60 L471.13,128.59 L470.32,128.59 L469.50,128.58 L468.68,128.57 L467.87,128.56 L467.05,128.56 L466.23,128.55 L465.42,128.55 L464.60,128.55 L463.78,128.55 L462.97,128.56 L462.15,128.58 L461.33,128.60 L460.52,128.62 L459.70,128.65 L458.88,128.68 L458.07,128.70 L457.25,128.72 L456.43,128.74 L455.62,128.54 L454.80,127.21 Z" fill="#161616" filter="url(#bl)"/>
<line x1="406.70" y1="184.60" x2="406.70" y2="266.90" stroke="#141414" stroke-width="1.4"/>
<line x1="406.00" y1="266.20" x2="512.00" y2="266.20" stroke="#141414" stroke-width="1.4"/>
<line x1="404.40" y1="194.40" x2="406.70" y2="194.40" stroke="#141414" stroke-width="0.9"/>
<text x="400.30" y="197.00" font-size="8.1" text-anchor="end" fill="#141414" textLength="9.60" lengthAdjust="spacingAndGlyphs">1.2</text>
<line x1="404.40" y1="218.40" x2="406.70" y2="218.40" stroke="#141414" stroke-width="0.9"/>
<text x="400.30" y="221.00" font-size="8.1" text-anchor="end" fill="#141414" textLength="9.60" lengthAdjust="spacingAndGlyphs">1.0</text>
<line x1="404.40" y1="242.40" x2="406.70" y2="242.40" stroke="#141414" stroke-width="0.9"/>
<text x="400.30" y="245.00" font-size="8.1" text-anchor="end" fill="#141414" textLength="9.60" lengthAdjust="spacingAndGlyphs">0.8</text>
<line x1="404.40" y1="266.40" x2="406.70" y2="266.40" stroke="#141414" stroke-width="0.9"/>
<text x="400.30" y="269.00" font-size="8.1" text-anchor="end" fill="#141414" textLength="9.60" lengthAdjust="spacingAndGlyphs">0.6</text>
<line x1="406.80" y1="266.20" x2="406.80" y2="268.60" stroke="#141414" stroke-width="0.9"/>
<text x="406.80" y="279.00" font-size="7.8" text-anchor="middle" fill="#141414" textLength="4.00" lengthAdjust="spacingAndGlyphs">0</text>
<line x1="429.56" y1="266.20" x2="429.56" y2="268.60" stroke="#141414" stroke-width="0.9"/>
<text x="429.56" y="279.00" font-size="7.8" text-anchor="middle" fill="#141414" textLength="4.00" lengthAdjust="spacingAndGlyphs">2</text>
<line x1="452.32" y1="266.20" x2="452.32" y2="268.60" stroke="#141414" stroke-width="0.9"/>
<text x="452.32" y="279.00" font-size="7.8" text-anchor="middle" fill="#141414" textLength="4.00" lengthAdjust="spacingAndGlyphs">4</text>
<line x1="475.08" y1="266.20" x2="475.08" y2="268.60" stroke="#141414" stroke-width="0.9"/>
<text x="475.08" y="279.00" font-size="7.8" text-anchor="middle" fill="#141414" textLength="4.00" lengthAdjust="spacingAndGlyphs">6</text>
<line x1="497.84" y1="266.20" x2="497.84" y2="268.60" stroke="#141414" stroke-width="0.9"/>
<text x="497.84" y="279.00" font-size="7.8" text-anchor="middle" fill="#141414" textLength="4.00" lengthAdjust="spacingAndGlyphs">8</text>
<text x="413.00" y="296.30" font-size="9.2" text-anchor="start" fill="#141414" textLength="85.80" lengthAdjust="spacingAndGlyphs">Shear stress [dyn/cm</text>
<text x="499.30" y="292.00" font-size="6.0" text-anchor="start" fill="#141414" textLength="3.40" lengthAdjust="spacingAndGlyphs" style="stroke-width:0.12px">2</text>
<text x="503.20" y="296.30" font-size="9.2" text-anchor="start" fill="#141414" textLength="2.80" lengthAdjust="spacingAndGlyphs">]</text>
<text transform="translate(371.20,226.00) rotate(-90)" font-size="9.2" text-anchor="middle" fill="#141414" textLength="78.80" lengthAdjust="spacingAndGlyphs">Relative number of</text>
<text transform="translate(383.30,226.50) rotate(-90)" font-size="9.2" text-anchor="middle" fill="#141414" textLength="58.30" lengthAdjust="spacingAndGlyphs">adherent cells</text>
<line x1="412.49" y1="213.30" x2="412.49" y2="221.30" stroke="#46659e" stroke-width="1.0"/>
<line x1="410.64" y1="213.30" x2="414.34" y2="213.30" stroke="#46659e" stroke-width="1.0"/>
<line x1="410.64" y1="221.30" x2="414.34" y2="221.30" stroke="#46659e" stroke-width="1.0"/>
<line x1="418.18" y1="221.50" x2="418.18" y2="233.10" stroke="#46659e" stroke-width="1.0"/>
<line x1="416.33" y1="221.50" x2="420.03" y2="221.50" stroke="#46659e" stroke-width="1.0"/>
<line x1="416.33" y1="233.10" x2="420.03" y2="233.10" stroke="#46659e" stroke-width="1.0"/>
<line x1="429.56" y1="224.20" x2="429.56" y2="238.20" stroke="#46659e" stroke-width="1.0"/>
<line x1="427.71" y1="224.20" x2="431.41" y2="224.20" stroke="#46659e" stroke-width="1.0"/>
<line x1="427.71" y1="238.20" x2="431.41" y2="238.20" stroke="#46659e" stroke-width="1.0"/>
<line x1="452.32" y1="228.30" x2="452.32" y2="243.20" stroke="#46659e" stroke-width="1.0"/>
<line x1="450.47" y1="228.30" x2="454.17" y2="228.30" stroke="#46659e" stroke-width="1.0"/>
<line x1="450.47" y1="243.20" x2="454.17" y2="243.20" stroke="#46659e" stroke-width="1.0"/>
<line x1="475.08" y1="228.60" x2="475.08" y2="245.30" stroke="#46659e" stroke-width="1.0"/>
<line x1="473.23" y1="228.60" x2="476.93" y2="228.60" stroke="#46659e" stroke-width="1.0"/>
<line x1="473.23" y1="245.30" x2="476.93" y2="245.30" stroke="#46659e" stroke-width="1.0"/>
<line x1="509.22" y1="229.30" x2="509.22" y2="247.60" stroke="#46659e" stroke-width="1.0"/>
<line x1="507.37" y1="229.30" x2="511.07" y2="229.30" stroke="#46659e" stroke-width="1.0"/>
<line x1="507.37" y1="247.60" x2="511.07" y2="247.60" stroke="#46659e" stroke-width="1.0"/>
<polyline points="406.80,218.50 412.49,217.30 418.18,226.70 429.56,230.90 452.32,235.60 475.08,237.50 509.22,238.80" fill="none" stroke="#3c5e9c" stroke-width="1.1"/>
<circle cx="406.80" cy="218.50" r="1.5" fill="#3c5e9c"/>
<circle cx="412.49" cy="217.30" r="1.5" fill="#3c5e9c"/>
<circle cx="418.18" cy="226.70" r="1.5" fill="#3c5e9c"/>
<circle cx="429.56" cy="230.90" r="1.5" fill="#3c5e9c"/>
<circle cx="452.32" cy="235.60" r="1.5" fill="#3c5e9c"/>
<circle cx="475.08" cy="237.50" r="1.5" fill="#3c5e9c"/>
<circle cx="509.22" cy="238.80" r="1.5" fill="#3c5e9c"/>
<line x1="412.49" y1="194.00" x2="412.49" y2="217.60" stroke="#c0385c" stroke-width="1.0"/>
<line x1="410.64" y1="194.00" x2="414.34" y2="194.00" stroke="#c0385c" stroke-width="1.0"/>
<line x1="410.64" y1="217.60" x2="414.34" y2="217.60" stroke="#c0385c" stroke-width="1.0"/>
<line x1="418.18" y1="197.60" x2="418.18" y2="219.10" stroke="#c0385c" stroke-width="1.0"/>
<line x1="416.33" y1="197.60" x2="420.03" y2="197.60" stroke="#c0385c" stroke-width="1.0"/>
<line x1="416.33" y1="219.10" x2="420.03" y2="219.10" stroke="#c0385c" stroke-width="1.0"/>
<line x1="429.56" y1="202.70" x2="429.56" y2="224.20" stroke="#c0385c" stroke-width="1.0"/>
<line x1="427.71" y1="202.70" x2="431.41" y2="202.70" stroke="#c0385c" stroke-width="1.0"/>
<line x1="427.71" y1="224.20" x2="431.41" y2="224.20" stroke="#c0385c" stroke-width="1.0"/>
<line x1="452.32" y1="204.20" x2="452.32" y2="228.20" stroke="#c0385c" stroke-width="1.0"/>
<line x1="450.47" y1="204.20" x2="454.17" y2="204.20" stroke="#c0385c" stroke-width="1.0"/>
<line x1="450.47" y1="228.20" x2="454.17" y2="228.20" stroke="#c0385c" stroke-width="1.0"/>
<line x1="475.08" y1="207.20" x2="475.08" y2="231.00" stroke="#c0385c" stroke-width="1.0"/>
<line x1="473.23" y1="207.20" x2="476.93" y2="207.20" stroke="#c0385c" stroke-width="1.0"/>
<line x1="473.23" y1="231.00" x2="476.93" y2="231.00" stroke="#c0385c" stroke-width="1.0"/>
<line x1="509.22" y1="208.30" x2="509.22" y2="233.70" stroke="#c0385c" stroke-width="1.0"/>
<line x1="507.37" y1="208.30" x2="511.07" y2="208.30" stroke="#c0385c" stroke-width="1.0"/>
<line x1="507.37" y1="233.70" x2="511.07" y2="233.70" stroke="#c0385c" stroke-width="1.0"/>
<polyline points="406.80,218.50 412.49,205.80 418.18,208.20 429.56,213.30 452.32,216.80 475.08,218.70 509.22,221.00" fill="none" stroke="#b0123f" stroke-width="1.1"/>
<circle cx="406.80" cy="218.50" r="1.5" fill="#b0123f"/>
<circle cx="412.49" cy="205.80" r="1.5" fill="#b0123f"/>
<circle cx="418.18" cy="208.20" r="1.5" fill="#b0123f"/>
<circle cx="429.56" cy="213.30" r="1.5" fill="#b0123f"/>
<circle cx="452.32" cy="216.80" r="1.5" fill="#b0123f"/>
<circle cx="475.08" cy="218.70" r="1.5" fill="#b0123f"/>
<circle cx="509.22" cy="221.00" r="1.5" fill="#b0123f"/>
<text x="412.49" y="191.39" font-size="7.4" text-anchor="middle" fill="#141414">*</text>
<text x="416.78" y="194.69" font-size="7.4" text-anchor="middle" fill="#141414">*</text>
<text x="420.18" y="194.69" font-size="7.4" text-anchor="middle" fill="#141414">*</text>
<text x="428.16" y="199.79" font-size="7.4" text-anchor="middle" fill="#141414">*</text>
<text x="431.56" y="199.79" font-size="7.4" text-anchor="middle" fill="#141414">*</text>
<text x="450.92" y="201.39" font-size="7.4" text-anchor="middle" fill="#141414">*</text>
<text x="454.32" y="201.39" font-size="7.4" text-anchor="middle" fill="#141414">*</text>
<text x="475.08" y="204.69" font-size="7.4" text-anchor="middle" fill="#141414">*</text>
<text x="509.22" y="205.29" font-size="7.4" text-anchor="middle" fill="#141414">*</text>
<line x1="419.50" y1="177.00" x2="429.90" y2="177.00" stroke="#c53f66" stroke-width="1.5"/>
<text x="433.40" y="179.50" font-size="8.7" text-anchor="start" fill="#141414" textLength="11.20" lengthAdjust="spacingAndGlyphs">WT</text>
<line x1="455.30" y1="177.00" x2="465.40" y2="177.00" stroke="#6580b4" stroke-width="1.5"/>
<text x="468.50" y="179.50" font-size="8.7" text-anchor="start" fill="#141414" textLength="13.80" lengthAdjust="spacingAndGlyphs">Tln1</text>
<text x="483.50" y="175.60" font-size="5.4" text-anchor="start" fill="#141414" textLength="13.90" lengthAdjust="spacingAndGlyphs" style="stroke-width:0.12px">3mut</text>
<line x1="32.90" y1="331.50" x2="32.90" y2="404.00" stroke="#555555" stroke-width="1.2"/>
<path d="M32.9,326.6 L30.6,332.2 L35.2,332.2 Z" fill="#111"/>
<text transform="translate(27.40,365.50) rotate(-90)" font-size="9.0" text-anchor="middle" fill="#141414" textLength="25.60" lengthAdjust="spacingAndGlyphs">Count</text>
<polygon points="57.80,401.10 62.30,400.70 66.30,400.10 69.30,398.90 71.30,396.60 72.80,393.60 73.90,388.60 75.30,382.10 76.50,372.10 77.10,362.10 77.70,355.10 78.60,348.10 79.60,340.10 80.50,335.10 81.30,333.30 81.90,334.60 82.60,338.10 83.20,346.10 83.70,356.10 84.30,371.10 85.10,382.10 85.90,392.10 86.80,398.10 87.80,400.90 89.30,401.30" fill="#e0ead2" stroke="none"/>
<polyline points="57.80,401.10 62.30,400.70 66.30,400.10 69.30,398.90 71.30,396.60 72.80,393.60 73.90,388.60 75.30,382.10 76.50,372.10 77.10,362.10 77.70,355.10 78.60,348.10 79.60,340.10 80.50,335.10 81.30,333.30 81.90,334.60 82.60,338.10 83.20,346.10 83.70,356.10 84.30,371.10 85.10,382.10 85.90,392.10 86.80,398.10 87.80,400.90 89.30,401.30" fill="none" stroke="#6aaa3c" stroke-width="1.15"/>
<line x1="57.40" y1="387.20" x2="57.40" y2="401.20" stroke="#6aaa3c" stroke-width="0.9"/>
<polyline points="86.10,401.30 87.30,399.60 88.30,392.10 89.30,378.10 90.30,362.10 91.10,348.10 91.70,338.10 92.30,333.70 92.70,332.90 93.90,334.60 94.80,341.10 95.70,351.10 96.80,363.10 98.20,376.10 99.90,386.10 101.90,393.60 104.40,398.40 106.90,400.70 109.90,401.10 115.40,401.30" fill="none" stroke="#4070b0" stroke-width="1.0"/>
<polyline points="85.80,401.30 87.10,399.60 88.10,392.10 89.10,378.10 90.10,362.10 90.90,348.10 91.50,338.10 92.10,333.10 92.50,332.30 93.70,334.10 94.50,341.10 95.30,351.10 96.30,363.10 97.50,376.10 99.10,386.10 101.10,393.60 103.70,398.40 106.40,400.70 109.40,400.90 111.90,399.10 113.40,399.70 115.40,401.10 118.90,401.30" fill="none" stroke="#b0103c" stroke-width="1.0"/>
<rect x="56.30" y="326.10" width="75.40" height="75.10" fill="none" stroke="#141414" stroke-width="1.2"/>
<line x1="53.30" y1="400.90" x2="56.30" y2="400.90" stroke="#141414" stroke-width="0.9"/>
<text x="50.40" y="403.50" font-size="8.1" text-anchor="end" fill="#141414" textLength="4.20" lengthAdjust="spacingAndGlyphs">0</text>
<line x1="53.30" y1="386.60" x2="56.30" y2="386.60" stroke="#141414" stroke-width="0.9"/>
<text x="50.40" y="389.20" font-size="8.1" text-anchor="end" fill="#141414" textLength="8.40" lengthAdjust="spacingAndGlyphs">20</text>
<line x1="53.30" y1="372.30" x2="56.30" y2="372.30" stroke="#141414" stroke-width="0.9"/>
<text x="50.40" y="374.90" font-size="8.1" text-anchor="end" fill="#141414" textLength="8.40" lengthAdjust="spacingAndGlyphs">40</text>
<line x1="53.30" y1="358.00" x2="56.30" y2="358.00" stroke="#141414" stroke-width="0.9"/>
<text x="50.40" y="360.60" font-size="8.1" text-anchor="end" fill="#141414" textLength="8.40" lengthAdjust="spacingAndGlyphs">60</text>
<line x1="53.30" y1="343.70" x2="56.30" y2="343.70" stroke="#141414" stroke-width="0.9"/>
<text x="50.40" y="346.30" font-size="8.1" text-anchor="end" fill="#141414" textLength="8.40" lengthAdjust="spacingAndGlyphs">80</text>
<line x1="53.30" y1="329.40" x2="56.30" y2="329.40" stroke="#141414" stroke-width="0.9"/>
<text x="50.40" y="332.00" font-size="8.1" text-anchor="end" fill="#141414" textLength="12.60" lengthAdjust="spacingAndGlyphs">100</text>
<line x1="54.80" y1="400.90" x2="56.30" y2="400.90" stroke="#141414" stroke-width="0.7"/>
<line x1="54.80" y1="399.11" x2="56.30" y2="399.11" stroke="#141414" stroke-width="0.7"/>
<line x1="54.80" y1="397.32" x2="56.30" y2="397.32" stroke="#141414" stroke-width="0.7"/>
<line x1="54.80" y1="395.53" x2="56.30" y2="395.53" stroke="#141414" stroke-width="0.7"/>
<line x1="54.80" y1="393.74" x2="56.30" y2="393.74" stroke="#141414" stroke-width="0.7"/>
<line x1="54.80" y1="391.95" x2="56.30" y2="391.95" stroke="#141414" stroke-width="0.7"/>
<line x1="54.80" y1="390.16" x2="56.30" y2="390.16" stroke="#141414" stroke-width="0.7"/>
<line x1="54.80" y1="388.37" x2="56.30" y2="388.37" stroke="#141414" stroke-width="0.7"/>
<line x1="54.80" y1="386.58" x2="56.30" y2="386.58" stroke="#141414" stroke-width="0.7"/>
<line x1="54.80" y1="384.79" x2="56.30" y2="384.79" stroke="#141414" stroke-width="0.7"/>
<line x1="54.80" y1="383.00" x2="56.30" y2="383.00" stroke="#141414" stroke-width="0.7"/>
<line x1="54.80" y1="381.21" x2="56.30" y2="381.21" stroke="#141414" stroke-width="0.7"/>
<line x1="54.80" y1="379.42" x2="56.30" y2="379.42" stroke="#141414" stroke-width="0.7"/>
<line x1="54.80" y1="377.63" x2="56.30" y2="377.63" stroke="#141414" stroke-width="0.7"/>
<line x1="54.80" y1="375.84" x2="56.30" y2="375.84" stroke="#141414" stroke-width="0.7"/>
<line x1="54.80" y1="374.05" x2="56.30" y2="374.05" stroke="#141414" stroke-width="0.7"/>
<line x1="54.80" y1="372.26" x2="56.30" y2="372.26" stroke="#141414" stroke-width="0.7"/>
<line x1="54.80" y1="370.47" x2="56.30" y2="370.47" stroke="#141414" stroke-width="0.7"/>
<line x1="54.80" y1="368.68" x2="56.30" y2="368.68" stroke="#141414" stroke-width="0.7"/>
<line x1="54.80" y1="366.89" x2="56.30" y2="366.89" stroke="#141414" stroke-width="0.7"/>
<line x1="54.80" y1="365.10" x2="56.30" y2="365.10" stroke="#141414" stroke-width="0.7"/>
<line x1="54.80" y1="363.31" x2="56.30" y2="363.31" stroke="#141414" stroke-width="0.7"/>
<line x1="54.80" y1="361.52" x2="56.30" y2="361.52" stroke="#141414" stroke-width="0.7"/>
<line x1="54.80" y1="359.73" x2="56.30" y2="359.73" stroke="#141414" stroke-width="0.7"/>
<line x1="54.80" y1="357.94" x2="56.30" y2="357.94" stroke="#141414" stroke-width="0.7"/>
<line x1="54.80" y1="356.15" x2="56.30" y2="356.15" stroke="#141414" stroke-width="0.7"/>
<line x1="54.80" y1="354.36" x2="56.30" y2="354.36" stroke="#141414" stroke-width="0.7"/>
<line x1="54.80" y1="352.57" x2="56.30" y2="352.57" stroke="#141414" stroke-width="0.7"/>
<line x1="54.80" y1="350.78" x2="56.30" y2="350.78" stroke="#141414" stroke-width="0.7"/>
<line x1="54.80" y1="348.99" x2="56.30" y2="348.99" stroke="#141414" stroke-width="0.7"/>
<line x1="54.80" y1="347.20" x2="56.30" y2="347.20" stroke="#141414" stroke-width="0.7"/>
<line x1="54.80" y1="345.41" x2="56.30" y2="345.41" stroke="#141414" stroke-width="0.7"/>
<line x1="54.80" y1="343.62" x2="56.30" y2="343.62" stroke="#141414" stroke-width="0.7"/>
<line x1="54.80" y1="341.83" x2="56.30" y2="341.83" stroke="#141414" stroke-width="0.7"/>
<line x1="54.80" y1="340.04" x2="56.30" y2="340.04" stroke="#141414" stroke-width="0.7"/>
<line x1="54.80" y1="338.25" x2="56.30" y2="338.25" stroke="#141414" stroke-width="0.7"/>
<line x1="54.80" y1="336.46" x2="56.30" y2="336.46" stroke="#141414" stroke-width="0.7"/>
<line x1="54.80" y1="334.67" x2="56.30" y2="334.67" stroke="#141414" stroke-width="0.7"/>
<line x1="54.80" y1="332.88" x2="56.30" y2="332.88" stroke="#141414" stroke-width="0.7"/>
<line x1="54.80" y1="331.09" x2="56.30" y2="331.09" stroke="#141414" stroke-width="0.7"/>
<line x1="58.31" y1="401.20" x2="58.31" y2="402.80" stroke="#141414" stroke-width="0.7"/>
<line x1="59.79" y1="401.20" x2="59.79" y2="402.80" stroke="#141414" stroke-width="0.7"/>
<line x1="61.01" y1="401.20" x2="61.01" y2="402.80" stroke="#141414" stroke-width="0.7"/>
<line x1="62.03" y1="401.20" x2="62.03" y2="402.80" stroke="#141414" stroke-width="0.7"/>
<line x1="62.92" y1="401.20" x2="62.92" y2="402.80" stroke="#141414" stroke-width="0.7"/>
<line x1="63.70" y1="401.20" x2="63.70" y2="402.80" stroke="#141414" stroke-width="0.7"/>
<line x1="64.40" y1="401.20" x2="64.40" y2="403.80" stroke="#141414" stroke-width="0.7"/>
<line x1="69.01" y1="401.20" x2="69.01" y2="402.80" stroke="#141414" stroke-width="0.7"/>
<line x1="71.70" y1="401.20" x2="71.70" y2="402.80" stroke="#141414" stroke-width="0.7"/>
<line x1="73.61" y1="401.20" x2="73.61" y2="402.80" stroke="#141414" stroke-width="0.7"/>
<line x1="75.09" y1="401.20" x2="75.09" y2="402.80" stroke="#141414" stroke-width="0.7"/>
<line x1="76.31" y1="401.20" x2="76.31" y2="402.80" stroke="#141414" stroke-width="0.7"/>
<line x1="77.33" y1="401.20" x2="77.33" y2="402.80" stroke="#141414" stroke-width="0.7"/>
<line x1="78.22" y1="401.20" x2="78.22" y2="402.80" stroke="#141414" stroke-width="0.7"/>
<line x1="79.00" y1="401.20" x2="79.00" y2="402.80" stroke="#141414" stroke-width="0.7"/>
<line x1="79.70" y1="401.20" x2="79.70" y2="403.80" stroke="#141414" stroke-width="0.7"/>
<line x1="84.31" y1="401.20" x2="84.31" y2="402.80" stroke="#141414" stroke-width="0.7"/>
<line x1="87.00" y1="401.20" x2="87.00" y2="402.80" stroke="#141414" stroke-width="0.7"/>
<line x1="88.91" y1="401.20" x2="88.91" y2="402.80" stroke="#141414" stroke-width="0.7"/>
<line x1="90.39" y1="401.20" x2="90.39" y2="402.80" stroke="#141414" stroke-width="0.7"/>
<line x1="91.61" y1="401.20" x2="91.61" y2="402.80" stroke="#141414" stroke-width="0.7"/>
<line x1="92.63" y1="401.20" x2="92.63" y2="402.80" stroke="#141414" stroke-width="0.7"/>
<line x1="93.52" y1="401.20" x2="93.52" y2="402.80" stroke="#141414" stroke-width="0.7"/>
<line x1="94.30" y1="401.20" x2="94.30" y2="402.80" stroke="#141414" stroke-width="0.7"/>
<line x1="95.00" y1="401.20" x2="95.00" y2="403.80" stroke="#141414" stroke-width="0.7"/>
<line x1="99.61" y1="401.20" x2="99.61" y2="402.80" stroke="#141414" stroke-width="0.7"/>
<line x1="102.30" y1="401.20" x2="102.30" y2="402.80" stroke="#141414" stroke-width="0.7"/>
<line x1="104.21" y1="401.20" x2="104.21" y2="402.80" stroke="#141414" stroke-width="0.7"/>
<line x1="105.69" y1="401.20" x2="105.69" y2="402.80" stroke="#141414" stroke-width="0.7"/>
<line x1="106.91" y1="401.20" x2="106.91" y2="402.80" stroke="#141414" stroke-width="0.7"/>
<line x1="107.93" y1="401.20" x2="107.93" y2="402.80" stroke="#141414" stroke-width="0.7"/>
<line x1="108.82" y1="401.20" x2="108.82" y2="402.80" stroke="#141414" stroke-width="0.7"/>
<line x1="109.60" y1="401.20" x2="109.60" y2="402.80" stroke="#141414" stroke-width="0.7"/>
<line x1="110.30" y1="401.20" x2="110.30" y2="403.80" stroke="#141414" stroke-width="0.7"/>
<line x1="114.91" y1="401.20" x2="114.91" y2="402.80" stroke="#141414" stroke-width="0.7"/>
<line x1="117.60" y1="401.20" x2="117.60" y2="402.80" stroke="#141414" stroke-width="0.7"/>
<line x1="119.51" y1="401.20" x2="119.51" y2="402.80" stroke="#141414" stroke-width="0.7"/>
<line x1="120.99" y1="401.20" x2="120.99" y2="402.80" stroke="#141414" stroke-width="0.7"/>
<line x1="122.21" y1="401.20" x2="122.21" y2="402.80" stroke="#141414" stroke-width="0.7"/>
<line x1="123.23" y1="401.20" x2="123.23" y2="402.80" stroke="#141414" stroke-width="0.7"/>
<line x1="124.12" y1="401.20" x2="124.12" y2="402.80" stroke="#141414" stroke-width="0.7"/>
<line x1="124.90" y1="401.20" x2="124.90" y2="402.80" stroke="#141414" stroke-width="0.7"/>
<line x1="125.60" y1="401.20" x2="125.60" y2="403.80" stroke="#141414" stroke-width="0.7"/>
<line x1="130.21" y1="401.20" x2="130.21" y2="402.80" stroke="#141414" stroke-width="0.7"/>
<text x="63.60" y="415.30" font-size="7.6" text-anchor="middle" fill="#141414" textLength="8.10" lengthAdjust="spacingAndGlyphs">10</text>
<text x="68.70" y="411.50" font-size="5.0" text-anchor="middle" fill="#141414" style="stroke-width:0.12px">1</text>
<text x="78.90" y="415.30" font-size="7.6" text-anchor="middle" fill="#141414" textLength="8.10" lengthAdjust="spacingAndGlyphs">10</text>
<text x="84.00" y="411.50" font-size="5.0" text-anchor="middle" fill="#141414" style="stroke-width:0.12px">2</text>
<text x="94.20" y="415.30" font-size="7.6" text-anchor="middle" fill="#141414" textLength="8.10" lengthAdjust="spacingAndGlyphs">10</text>
<text x="99.30" y="411.50" font-size="5.0" text-anchor="middle" fill="#141414" style="stroke-width:0.12px">3</text>
<text x="109.50" y="415.30" font-size="7.6" text-anchor="middle" fill="#141414" textLength="8.10" lengthAdjust="spacingAndGlyphs">10</text>
<text x="114.60" y="411.50" font-size="5.0" text-anchor="middle" fill="#141414" style="stroke-width:0.12px">4</text>
<text x="124.80" y="415.30" font-size="7.6" text-anchor="middle" fill="#141414" textLength="8.10" lengthAdjust="spacingAndGlyphs">10</text>
<text x="129.90" y="411.50" font-size="5.0" text-anchor="middle" fill="#141414" style="stroke-width:0.12px">5</text>
<text x="58.90" y="336.00" font-size="8.2" text-anchor="start" fill="#141414" textLength="7.20" lengthAdjust="spacingAndGlyphs">β1</text>
<polygon points="163.90,401.10 168.40,400.71 172.40,400.12 175.40,398.94 177.40,396.68 178.90,393.74 180.00,388.83 181.40,382.44 182.60,372.62 183.20,362.80 183.80,355.93 184.70,349.05 185.70,341.20 186.60,336.29 187.40,334.52 188.00,335.80 188.70,339.23 189.30,347.09 189.80,356.91 190.40,371.64 191.20,382.44 192.00,392.26 192.90,398.15 193.90,400.90 195.40,401.30" fill="#e0ead2" stroke="none"/>
<polyline points="163.90,401.10 168.40,400.71 172.40,400.12 175.40,398.94 177.40,396.68 178.90,393.74 180.00,388.83 181.40,382.44 182.60,372.62 183.20,362.80 183.80,355.93 184.70,349.05 185.70,341.20 186.60,336.29 187.40,334.52 188.00,335.80 188.70,339.23 189.30,347.09 189.80,356.91 190.40,371.64 191.20,382.44 192.00,392.26 192.90,398.15 193.90,400.90 195.40,401.30" fill="none" stroke="#6aaa3c" stroke-width="1.15"/>
<line x1="163.50" y1="387.20" x2="163.50" y2="401.20" stroke="#6aaa3c" stroke-width="0.9"/>
<polyline points="212.00,401.30 213.40,396.10 214.40,384.10 215.40,366.10 216.40,346.10 217.40,334.60 218.50,331.10 219.80,333.10 220.40,339.10 221.00,346.10 221.80,356.10 222.70,368.10 223.60,380.10 224.60,390.10 225.80,398.10 227.30,401.30" fill="none" stroke="#4070b0" stroke-width="1.0"/>
<polyline points="211.70,401.30 213.20,396.10 214.20,384.10 215.20,366.10 216.20,346.10 217.20,334.10 218.40,330.10 220.10,332.10 220.90,338.10 221.70,344.10 222.70,350.10 223.70,359.10 224.70,370.10 225.90,382.10 227.10,392.10 228.60,399.10 230.10,401.30" fill="none" stroke="#b0103c" stroke-width="1.0"/>
<rect x="162.40" y="326.10" width="75.40" height="75.10" fill="none" stroke="#141414" stroke-width="1.2"/>
<line x1="159.40" y1="400.90" x2="162.40" y2="400.90" stroke="#141414" stroke-width="0.9"/>
<text x="156.50" y="403.50" font-size="8.1" text-anchor="end" fill="#141414" textLength="4.20" lengthAdjust="spacingAndGlyphs">0</text>
<line x1="159.40" y1="386.60" x2="162.40" y2="386.60" stroke="#141414" stroke-width="0.9"/>
<text x="156.50" y="389.20" font-size="8.1" text-anchor="end" fill="#141414" textLength="8.40" lengthAdjust="spacingAndGlyphs">20</text>
<line x1="159.40" y1="372.30" x2="162.40" y2="372.30" stroke="#141414" stroke-width="0.9"/>
<text x="156.50" y="374.90" font-size="8.1" text-anchor="end" fill="#141414" textLength="8.40" lengthAdjust="spacingAndGlyphs">40</text>
<line x1="159.40" y1="358.00" x2="162.40" y2="358.00" stroke="#141414" stroke-width="0.9"/>
<text x="156.50" y="360.60" font-size="8.1" text-anchor="end" fill="#141414" textLength="8.40" lengthAdjust="spacingAndGlyphs">60</text>
<line x1="159.40" y1="343.70" x2="162.40" y2="343.70" stroke="#141414" stroke-width="0.9"/>
<text x="156.50" y="346.30" font-size="8.1" text-anchor="end" fill="#141414" textLength="8.40" lengthAdjust="spacingAndGlyphs">80</text>
<line x1="159.40" y1="329.40" x2="162.40" y2="329.40" stroke="#141414" stroke-width="0.9"/>
<text x="156.50" y="332.00" font-size="8.1" text-anchor="end" fill="#141414" textLength="12.60" lengthAdjust="spacingAndGlyphs">100</text>
<line x1="160.90" y1="400.90" x2="162.40" y2="400.90" stroke="#141414" stroke-width="0.7"/>
<line x1="160.90" y1="399.11" x2="162.40" y2="399.11" stroke="#141414" stroke-width="0.7"/>
<line x1="160.90" y1="397.32" x2="162.40" y2="397.32" stroke="#141414" stroke-width="0.7"/>
<line x1="160.90" y1="395.53" x2="162.40" y2="395.53" stroke="#141414" stroke-width="0.7"/>
<line x1="160.90" y1="393.74" x2="162.40" y2="393.74" stroke="#141414" stroke-width="0.7"/>
<line x1="160.90" y1="391.95" x2="162.40" y2="391.95" stroke="#141414" stroke-width="0.7"/>
<line x1="160.90" y1="390.16" x2="162.40" y2="390.16" stroke="#141414" stroke-width="0.7"/>
<line x1="160.90" y1="388.37" x2="162.40" y2="388.37" stroke="#141414" stroke-width="0.7"/>
<line x1="160.90" y1="386.58" x2="162.40" y2="386.58" stroke="#141414" stroke-width="0.7"/>
<line x1="160.90" y1="384.79" x2="162.40" y2="384.79" stroke="#141414" stroke-width="0.7"/>
<line x1="160.90" y1="383.00" x2="162.40" y2="383.00" stroke="#141414" stroke-width="0.7"/>
<line x1="160.90" y1="381.21" x2="162.40" y2="381.21" stroke="#141414" stroke-width="0.7"/>
<line x1="160.90" y1="379.42" x2="162.40" y2="379.42" stroke="#141414" stroke-width="0.7"/>
<line x1="160.90" y1="377.63" x2="162.40" y2="377.63" stroke="#141414" stroke-width="0.7"/>
<line x1="160.90" y1="375.84" x2="162.40" y2="375.84" stroke="#141414" stroke-width="0.7"/>
<line x1="160.90" y1="374.05" x2="162.40" y2="374.05" stroke="#141414" stroke-width="0.7"/>
<line x1="160.90" y1="372.26" x2="162.40" y2="372.26" stroke="#141414" stroke-width="0.7"/>
<line x1="160.90" y1="370.47" x2="162.40" y2="370.47" stroke="#141414" stroke-width="0.7"/>
<line x1="160.90" y1="368.68" x2="162.40" y2="368.68" stroke="#141414" stroke-width="0.7"/>
<line x1="160.90" y1="366.89" x2="162.40" y2="366.89" stroke="#141414" stroke-width="0.7"/>
<line x1="160.90" y1="365.10" x2="162.40" y2="365.10" stroke="#141414" stroke-width="0.7"/>
<line x1="160.90" y1="363.31" x2="162.40" y2="363.31" stroke="#141414" stroke-width="0.7"/>
<line x1="160.90" y1="361.52" x2="162.40" y2="361.52" stroke="#141414" stroke-width="0.7"/>
<line x1="160.90" y1="359.73" x2="162.40" y2="359.73" stroke="#141414" stroke-width="0.7"/>
<line x1="160.90" y1="357.94" x2="162.40" y2="357.94" stroke="#141414" stroke-width="0.7"/>
<line x1="160.90" y1="356.15" x2="162.40" y2="356.15" stroke="#141414" stroke-width="0.7"/>
<line x1="160.90" y1="354.36" x2="162.40" y2="354.36" stroke="#141414" stroke-width="0.7"/>
<line x1="160.90" y1="352.57" x2="162.40" y2="352.57" stroke="#141414" stroke-width="0.7"/>
<line x1="160.90" y1="350.78" x2="162.40" y2="350.78" stroke="#141414" stroke-width="0.7"/>
<line x1="160.90" y1="348.99" x2="162.40" y2="348.99" stroke="#141414" stroke-width="0.7"/>
<line x1="160.90" y1="347.20" x2="162.40" y2="347.20" stroke="#141414" stroke-width="0.7"/>
<line x1="160.90" y1="345.41" x2="162.40" y2="345.41" stroke="#141414" stroke-width="0.7"/>
<line x1="160.90" y1="343.62" x2="162.40" y2="343.62" stroke="#141414" stroke-width="0.7"/>
<line x1="160.90" y1="341.83" x2="162.40" y2="341.83" stroke="#141414" stroke-width="0.7"/>
<line x1="160.90" y1="340.04" x2="162.40" y2="340.04" stroke="#141414" stroke-width="0.7"/>
<line x1="160.90" y1="338.25" x2="162.40" y2="338.25" stroke="#141414" stroke-width="0.7"/>
<line x1="160.90" y1="336.46" x2="162.40" y2="336.46" stroke="#141414" stroke-width="0.7"/>
<line x1="160.90" y1="334.67" x2="162.40" y2="334.67" stroke="#141414" stroke-width="0.7"/>
<line x1="160.90" y1="332.88" x2="162.40" y2="332.88" stroke="#141414" stroke-width="0.7"/>
<line x1="160.90" y1="331.09" x2="162.40" y2="331.09" stroke="#141414" stroke-width="0.7"/>
<line x1="164.41" y1="401.20" x2="164.41" y2="402.80" stroke="#141414" stroke-width="0.7"/>
<line x1="165.89" y1="401.20" x2="165.89" y2="402.80" stroke="#141414" stroke-width="0.7"/>
<line x1="167.11" y1="401.20" x2="167.11" y2="402.80" stroke="#141414" stroke-width="0.7"/>
<line x1="168.13" y1="401.20" x2="168.13" y2="402.80" stroke="#141414" stroke-width="0.7"/>
<line x1="169.02" y1="401.20" x2="169.02" y2="402.80" stroke="#141414" stroke-width="0.7"/>
<line x1="169.80" y1="401.20" x2="169.80" y2="402.80" stroke="#141414" stroke-width="0.7"/>
<line x1="170.50" y1="401.20" x2="170.50" y2="403.80" stroke="#141414" stroke-width="0.7"/>
<line x1="175.11" y1="401.20" x2="175.11" y2="402.80" stroke="#141414" stroke-width="0.7"/>
<line x1="177.80" y1="401.20" x2="177.80" y2="402.80" stroke="#141414" stroke-width="0.7"/>
<line x1="179.71" y1="401.20" x2="179.71" y2="402.80" stroke="#141414" stroke-width="0.7"/>
<line x1="181.19" y1="401.20" x2="181.19" y2="402.80" stroke="#141414" stroke-width="0.7"/>
<line x1="182.41" y1="401.20" x2="182.41" y2="402.80" stroke="#141414" stroke-width="0.7"/>
<line x1="183.43" y1="401.20" x2="183.43" y2="402.80" stroke="#141414" stroke-width="0.7"/>
<line x1="184.32" y1="401.20" x2="184.32" y2="402.80" stroke="#141414" stroke-width="0.7"/>
<line x1="185.10" y1="401.20" x2="185.10" y2="402.80" stroke="#141414" stroke-width="0.7"/>
<line x1="185.80" y1="401.20" x2="185.80" y2="403.80" stroke="#141414" stroke-width="0.7"/>
<line x1="190.41" y1="401.20" x2="190.41" y2="402.80" stroke="#141414" stroke-width="0.7"/>
<line x1="193.10" y1="401.20" x2="193.10" y2="402.80" stroke="#141414" stroke-width="0.7"/>
<line x1="195.01" y1="401.20" x2="195.01" y2="402.80" stroke="#141414" stroke-width="0.7"/>
<line x1="196.49" y1="401.20" x2="196.49" y2="402.80" stroke="#141414" stroke-width="0.7"/>
<line x1="197.71" y1="401.20" x2="197.71" y2="402.80" stroke="#141414" stroke-width="0.7"/>
<line x1="198.73" y1="401.20" x2="198.73" y2="402.80" stroke="#141414" stroke-width="0.7"/>
<line x1="199.62" y1="401.20" x2="199.62" y2="402.80" stroke="#141414" stroke-width="0.7"/>
<line x1="200.40" y1="401.20" x2="200.40" y2="402.80" stroke="#141414" stroke-width="0.7"/>
<line x1="201.10" y1="401.20" x2="201.10" y2="403.80" stroke="#141414" stroke-width="0.7"/>
<line x1="205.71" y1="401.20" x2="205.71" y2="402.80" stroke="#141414" stroke-width="0.7"/>
<line x1="208.40" y1="401.20" x2="208.40" y2="402.80" stroke="#141414" stroke-width="0.7"/>
<line x1="210.31" y1="401.20" x2="210.31" y2="402.80" stroke="#141414" stroke-width="0.7"/>
<line x1="211.79" y1="401.20" x2="211.79" y2="402.80" stroke="#141414" stroke-width="0.7"/>
<line x1="213.01" y1="401.20" x2="213.01" y2="402.80" stroke="#141414" stroke-width="0.7"/>
<line x1="214.03" y1="401.20" x2="214.03" y2="402.80" stroke="#141414" stroke-width="0.7"/>
<line x1="214.92" y1="401.20" x2="214.92" y2="402.80" stroke="#141414" stroke-width="0.7"/>
<line x1="215.70" y1="401.20" x2="215.70" y2="402.80" stroke="#141414" stroke-width="0.7"/>
<line x1="216.40" y1="401.20" x2="216.40" y2="403.80" stroke="#141414" stroke-width="0.7"/>
<line x1="221.01" y1="401.20" x2="221.01" y2="402.80" stroke="#141414" stroke-width="0.7"/>
<line x1="223.70" y1="401.20" x2="223.70" y2="402.80" stroke="#141414" stroke-width="0.7"/>
<line x1="225.61" y1="401.20" x2="225.61" y2="402.80" stroke="#141414" stroke-width="0.7"/>
<line x1="227.09" y1="401.20" x2="227.09" y2="402.80" stroke="#141414" stroke-width="0.7"/>
<line x1="228.31" y1="401.20" x2="228.31" y2="402.80" stroke="#141414" stroke-width="0.7"/>
<line x1="229.33" y1="401.20" x2="229.33" y2="402.80" stroke="#141414" stroke-width="0.7"/>
<line x1="230.22" y1="401.20" x2="230.22" y2="402.80" stroke="#141414" stroke-width="0.7"/>
<line x1="231.00" y1="401.20" x2="231.00" y2="402.80" stroke="#141414" stroke-width="0.7"/>
<line x1="231.70" y1="401.20" x2="231.70" y2="403.80" stroke="#141414" stroke-width="0.7"/>
<line x1="236.31" y1="401.20" x2="236.31" y2="402.80" stroke="#141414" stroke-width="0.7"/>
<text x="169.70" y="415.30" font-size="7.6" text-anchor="middle" fill="#141414" textLength="8.10" lengthAdjust="spacingAndGlyphs">10</text>
<text x="174.80" y="411.50" font-size="5.0" text-anchor="middle" fill="#141414" style="stroke-width:0.12px">1</text>
<text x="185.00" y="415.30" font-size="7.6" text-anchor="middle" fill="#141414" textLength="8.10" lengthAdjust="spacingAndGlyphs">10</text>
<text x="190.10" y="411.50" font-size="5.0" text-anchor="middle" fill="#141414" style="stroke-width:0.12px">2</text>
<text x="200.30" y="415.30" font-size="7.6" text-anchor="middle" fill="#141414" textLength="8.10" lengthAdjust="spacingAndGlyphs">10</text>
<text x="205.40" y="411.50" font-size="5.0" text-anchor="middle" fill="#141414" style="stroke-width:0.12px">3</text>
<text x="215.60" y="415.30" font-size="7.6" text-anchor="middle" fill="#141414" textLength="8.10" lengthAdjust="spacingAndGlyphs">10</text>
<text x="220.70" y="411.50" font-size="5.0" text-anchor="middle" fill="#141414" style="stroke-width:0.12px">4</text>
<text x="230.90" y="415.30" font-size="7.6" text-anchor="middle" fill="#141414" textLength="8.10" lengthAdjust="spacingAndGlyphs">10</text>
<text x="236.00" y="411.50" font-size="5.0" text-anchor="middle" fill="#141414" style="stroke-width:0.12px">5</text>
<text x="165.00" y="336.00" font-size="8.2" text-anchor="start" fill="#141414" textLength="7.20" lengthAdjust="spacingAndGlyphs">β2</text>
<polygon points="269.20,401.10 273.70,400.71 277.70,400.12 280.70,398.93 282.70,396.67 284.20,393.71 285.30,388.79 286.70,382.38 287.90,372.54 288.50,362.69 289.10,355.79 290.00,348.90 291.00,341.02 291.90,336.09 292.70,334.32 293.30,335.60 294.00,339.05 294.60,346.93 295.10,356.78 295.70,371.55 296.50,382.38 297.30,392.24 298.20,398.15 299.20,400.90 300.70,401.30" fill="#e0ead2" stroke="none"/>
<polyline points="269.20,401.10 273.70,400.71 277.70,400.12 280.70,398.93 282.70,396.67 284.20,393.71 285.30,388.79 286.70,382.38 287.90,372.54 288.50,362.69 289.10,355.79 290.00,348.90 291.00,341.02 291.90,336.09 292.70,334.32 293.30,335.60 294.00,339.05 294.60,346.93 295.10,356.78 295.70,371.55 296.50,382.38 297.30,392.24 298.20,398.15 299.20,400.90 300.70,401.30" fill="none" stroke="#6aaa3c" stroke-width="1.15"/>
<line x1="268.90" y1="387.20" x2="268.90" y2="401.20" stroke="#6aaa3c" stroke-width="0.9"/>
<polyline points="301.56,401.30 302.76,398.10 303.80,388.10 304.76,372.10 305.72,354.10 306.52,340.60 307.08,333.60 307.40,332.30 307.88,334.10 308.44,341.10 309.08,355.10 309.72,373.10 310.36,389.10 311.16,398.60 312.20,401.30" fill="none" stroke="#4070b0" stroke-width="1.0"/>
<polyline points="301.30,401.30 302.50,398.10 303.54,388.10 304.50,372.10 305.46,354.10 306.26,340.10 306.90,332.60 307.30,331.10 307.78,333.10 308.34,340.10 308.98,354.10 309.62,372.10 310.26,388.10 311.06,398.10 312.10,401.30" fill="none" stroke="#b0103c" stroke-width="1.0"/>
<rect x="267.80" y="326.10" width="75.40" height="75.10" fill="none" stroke="#141414" stroke-width="1.2"/>
<line x1="264.80" y1="400.90" x2="267.80" y2="400.90" stroke="#141414" stroke-width="0.9"/>
<text x="261.90" y="403.50" font-size="8.1" text-anchor="end" fill="#141414" textLength="4.20" lengthAdjust="spacingAndGlyphs">0</text>
<line x1="264.80" y1="386.60" x2="267.80" y2="386.60" stroke="#141414" stroke-width="0.9"/>
<text x="261.90" y="389.20" font-size="8.1" text-anchor="end" fill="#141414" textLength="8.40" lengthAdjust="spacingAndGlyphs">20</text>
<line x1="264.80" y1="372.30" x2="267.80" y2="372.30" stroke="#141414" stroke-width="0.9"/>
<text x="261.90" y="374.90" font-size="8.1" text-anchor="end" fill="#141414" textLength="8.40" lengthAdjust="spacingAndGlyphs">40</text>
<line x1="264.80" y1="358.00" x2="267.80" y2="358.00" stroke="#141414" stroke-width="0.9"/>
<text x="261.90" y="360.60" font-size="8.1" text-anchor="end" fill="#141414" textLength="8.40" lengthAdjust="spacingAndGlyphs">60</text>
<line x1="264.80" y1="343.70" x2="267.80" y2="343.70" stroke="#141414" stroke-width="0.9"/>
<text x="261.90" y="346.30" font-size="8.1" text-anchor="end" fill="#141414" textLength="8.40" lengthAdjust="spacingAndGlyphs">80</text>
<line x1="264.80" y1="329.40" x2="267.80" y2="329.40" stroke="#141414" stroke-width="0.9"/>
<text x="261.90" y="332.00" font-size="8.1" text-anchor="end" fill="#141414" textLength="12.60" lengthAdjust="spacingAndGlyphs">100</text>
<line x1="266.30" y1="400.90" x2="267.80" y2="400.90" stroke="#141414" stroke-width="0.7"/>
<line x1="266.30" y1="399.11" x2="267.80" y2="399.11" stroke="#141414" stroke-width="0.7"/>
<line x1="266.30" y1="397.32" x2="267.80" y2="397.32" stroke="#141414" stroke-width="0.7"/>
<line x1="266.30" y1="395.53" x2="267.80" y2="395.53" stroke="#141414" stroke-width="0.7"/>
<line x1="266.30" y1="393.74" x2="267.80" y2="393.74" stroke="#141414" stroke-width="0.7"/>
<line x1="266.30" y1="391.95" x2="267.80" y2="391.95" stroke="#141414" stroke-width="0.7"/>
<line x1="266.30" y1="390.16" x2="267.80" y2="390.16" stroke="#141414" stroke-width="0.7"/>
<line x1="266.30" y1="388.37" x2="267.80" y2="388.37" stroke="#141414" stroke-width="0.7"/>
<line x1="266.30" y1="386.58" x2="267.80" y2="386.58" stroke="#141414" stroke-width="0.7"/>
<line x1="266.30" y1="384.79" x2="267.80" y2="384.79" stroke="#141414" stroke-width="0.7"/>
<line x1="266.30" y1="383.00" x2="267.80" y2="383.00" stroke="#141414" stroke-width="0.7"/>
<line x1="266.30" y1="381.21" x2="267.80" y2="381.21" stroke="#141414" stroke-width="0.7"/>
<line x1="266.30" y1="379.42" x2="267.80" y2="379.42" stroke="#141414" stroke-width="0.7"/>
<line x1="266.30" y1="377.63" x2="267.80" y2="377.63" stroke="#141414" stroke-width="0.7"/>
<line x1="266.30" y1="375.84" x2="267.80" y2="375.84" stroke="#141414" stroke-width="0.7"/>
<line x1="266.30" y1="374.05" x2="267.80" y2="374.05" stroke="#141414" stroke-width="0.7"/>
<line x1="266.30" y1="372.26" x2="267.80" y2="372.26" stroke="#141414" stroke-width="0.7"/>
<line x1="266.30" y1="370.47" x2="267.80" y2="370.47" stroke="#141414" stroke-width="0.7"/>
<line x1="266.30" y1="368.68" x2="267.80" y2="368.68" stroke="#141414" stroke-width="0.7"/>
<line x1="266.30" y1="366.89" x2="267.80" y2="366.89" stroke="#141414" stroke-width="0.7"/>
<line x1="266.30" y1="365.10" x2="267.80" y2="365.10" stroke="#141414" stroke-width="0.7"/>
<line x1="266.30" y1="363.31" x2="267.80" y2="363.31" stroke="#141414" stroke-width="0.7"/>
<line x1="266.30" y1="361.52" x2="267.80" y2="361.52" stroke="#141414" stroke-width="0.7"/>
<line x1="266.30" y1="359.73" x2="267.80" y2="359.73" stroke="#141414" stroke-width="0.7"/>
<line x1="266.30" y1="357.94" x2="267.80" y2="357.94" stroke="#141414" stroke-width="0.7"/>
<line x1="266.30" y1="356.15" x2="267.80" y2="356.15" stroke="#141414" stroke-width="0.7"/>
<line x1="266.30" y1="354.36" x2="267.80" y2="354.36" stroke="#141414" stroke-width="0.7"/>
<line x1="266.30" y1="352.57" x2="267.80" y2="352.57" stroke="#141414" stroke-width="0.7"/>
<line x1="266.30" y1="350.78" x2="267.80" y2="350.78" stroke="#141414" stroke-width="0.7"/>
<line x1="266.30" y1="348.99" x2="267.80" y2="348.99" stroke="#141414" stroke-width="0.7"/>
<line x1="266.30" y1="347.20" x2="267.80" y2="347.20" stroke="#141414" stroke-width="0.7"/>
<line x1="266.30" y1="345.41" x2="267.80" y2="345.41" stroke="#141414" stroke-width="0.7"/>
<line x1="266.30" y1="343.62" x2="267.80" y2="343.62" stroke="#141414" stroke-width="0.7"/>
<line x1="266.30" y1="341.83" x2="267.80" y2="341.83" stroke="#141414" stroke-width="0.7"/>
<line x1="266.30" y1="340.04" x2="267.80" y2="340.04" stroke="#141414" stroke-width="0.7"/>
<line x1="266.30" y1="338.25" x2="267.80" y2="338.25" stroke="#141414" stroke-width="0.7"/>
<line x1="266.30" y1="336.46" x2="267.80" y2="336.46" stroke="#141414" stroke-width="0.7"/>
<line x1="266.30" y1="334.67" x2="267.80" y2="334.67" stroke="#141414" stroke-width="0.7"/>
<line x1="266.30" y1="332.88" x2="267.80" y2="332.88" stroke="#141414" stroke-width="0.7"/>
<line x1="266.30" y1="331.09" x2="267.80" y2="331.09" stroke="#141414" stroke-width="0.7"/>
<line x1="269.81" y1="401.20" x2="269.81" y2="402.80" stroke="#141414" stroke-width="0.7"/>
<line x1="271.29" y1="401.20" x2="271.29" y2="402.80" stroke="#141414" stroke-width="0.7"/>
<line x1="272.51" y1="401.20" x2="272.51" y2="402.80" stroke="#141414" stroke-width="0.7"/>
<line x1="273.53" y1="401.20" x2="273.53" y2="402.80" stroke="#141414" stroke-width="0.7"/>
<line x1="274.42" y1="401.20" x2="274.42" y2="402.80" stroke="#141414" stroke-width="0.7"/>
<line x1="275.20" y1="401.20" x2="275.20" y2="402.80" stroke="#141414" stroke-width="0.7"/>
<line x1="275.90" y1="401.20" x2="275.90" y2="403.80" stroke="#141414" stroke-width="0.7"/>
<line x1="280.51" y1="401.20" x2="280.51" y2="402.80" stroke="#141414" stroke-width="0.7"/>
<line x1="283.20" y1="401.20" x2="283.20" y2="402.80" stroke="#141414" stroke-width="0.7"/>
<line x1="285.11" y1="401.20" x2="285.11" y2="402.80" stroke="#141414" stroke-width="0.7"/>
<line x1="286.59" y1="401.20" x2="286.59" y2="402.80" stroke="#141414" stroke-width="0.7"/>
<line x1="287.81" y1="401.20" x2="287.81" y2="402.80" stroke="#141414" stroke-width="0.7"/>
<line x1="288.83" y1="401.20" x2="288.83" y2="402.80" stroke="#141414" stroke-width="0.7"/>
<line x1="289.72" y1="401.20" x2="289.72" y2="402.80" stroke="#141414" stroke-width="0.7"/>
<line x1="290.50" y1="401.20" x2="290.50" y2="402.80" stroke="#141414" stroke-width="0.7"/>
<line x1="291.20" y1="401.20" x2="291.20" y2="403.80" stroke="#141414" stroke-width="0.7"/>
<line x1="295.81" y1="401.20" x2="295.81" y2="402.80" stroke="#141414" stroke-width="0.7"/>
<line x1="298.50" y1="401.20" x2="298.50" y2="402.80" stroke="#141414" stroke-width="0.7"/>
<line x1="300.41" y1="401.20" x2="300.41" y2="402.80" stroke="#141414" stroke-width="0.7"/>
<line x1="301.89" y1="401.20" x2="301.89" y2="402.80" stroke="#141414" stroke-width="0.7"/>
<line x1="303.11" y1="401.20" x2="303.11" y2="402.80" stroke="#141414" stroke-width="0.7"/>
<line x1="304.13" y1="401.20" x2="304.13" y2="402.80" stroke="#141414" stroke-width="0.7"/>
<line x1="305.02" y1="401.20" x2="305.02" y2="402.80" stroke="#141414" stroke-width="0.7"/>
<line x1="305.80" y1="401.20" x2="305.80" y2="402.80" stroke="#141414" stroke-width="0.7"/>
<line x1="306.50" y1="401.20" x2="306.50" y2="403.80" stroke="#141414" stroke-width="0.7"/>
<line x1="311.11" y1="401.20" x2="311.11" y2="402.80" stroke="#141414" stroke-width="0.7"/>
<line x1="313.80" y1="401.20" x2="313.80" y2="402.80" stroke="#141414" stroke-width="0.7"/>
<line x1="315.71" y1="401.20" x2="315.71" y2="402.80" stroke="#141414" stroke-width="0.7"/>
<line x1="317.19" y1="401.20" x2="317.19" y2="402.80" stroke="#141414" stroke-width="0.7"/>
<line x1="318.41" y1="401.20" x2="318.41" y2="402.80" stroke="#141414" stroke-width="0.7"/>
<line x1="319.43" y1="401.20" x2="319.43" y2="402.80" stroke="#141414" stroke-width="0.7"/>
<line x1="320.32" y1="401.20" x2="320.32" y2="402.80" stroke="#141414" stroke-width="0.7"/>
<line x1="321.10" y1="401.20" x2="321.10" y2="402.80" stroke="#141414" stroke-width="0.7"/>
<line x1="321.80" y1="401.20" x2="321.80" y2="403.80" stroke="#141414" stroke-width="0.7"/>
<line x1="326.41" y1="401.20" x2="326.41" y2="402.80" stroke="#141414" stroke-width="0.7"/>
<line x1="329.10" y1="401.20" x2="329.10" y2="402.80" stroke="#141414" stroke-width="0.7"/>
<line x1="331.01" y1="401.20" x2="331.01" y2="402.80" stroke="#141414" stroke-width="0.7"/>
<line x1="332.49" y1="401.20" x2="332.49" y2="402.80" stroke="#141414" stroke-width="0.7"/>
<line x1="333.71" y1="401.20" x2="333.71" y2="402.80" stroke="#141414" stroke-width="0.7"/>
<line x1="334.73" y1="401.20" x2="334.73" y2="402.80" stroke="#141414" stroke-width="0.7"/>
<line x1="335.62" y1="401.20" x2="335.62" y2="402.80" stroke="#141414" stroke-width="0.7"/>
<line x1="336.40" y1="401.20" x2="336.40" y2="402.80" stroke="#141414" stroke-width="0.7"/>
<line x1="337.10" y1="401.20" x2="337.10" y2="403.80" stroke="#141414" stroke-width="0.7"/>
<line x1="341.71" y1="401.20" x2="341.71" y2="402.80" stroke="#141414" stroke-width="0.7"/>
<text x="275.10" y="415.30" font-size="7.6" text-anchor="middle" fill="#141414" textLength="8.10" lengthAdjust="spacingAndGlyphs">10</text>
<text x="280.20" y="411.50" font-size="5.0" text-anchor="middle" fill="#141414" style="stroke-width:0.12px">1</text>
<text x="290.40" y="415.30" font-size="7.6" text-anchor="middle" fill="#141414" textLength="8.10" lengthAdjust="spacingAndGlyphs">10</text>
<text x="295.50" y="411.50" font-size="5.0" text-anchor="middle" fill="#141414" style="stroke-width:0.12px">2</text>
<text x="305.70" y="415.30" font-size="7.6" text-anchor="middle" fill="#141414" textLength="8.10" lengthAdjust="spacingAndGlyphs">10</text>
<text x="310.80" y="411.50" font-size="5.0" text-anchor="middle" fill="#141414" style="stroke-width:0.12px">3</text>
<text x="321.00" y="415.30" font-size="7.6" text-anchor="middle" fill="#141414" textLength="8.10" lengthAdjust="spacingAndGlyphs">10</text>
<text x="326.10" y="411.50" font-size="5.0" text-anchor="middle" fill="#141414" style="stroke-width:0.12px">4</text>
<text x="336.30" y="415.30" font-size="7.6" text-anchor="middle" fill="#141414" textLength="8.10" lengthAdjust="spacingAndGlyphs">10</text>
<text x="341.40" y="411.50" font-size="5.0" text-anchor="middle" fill="#141414" style="stroke-width:0.12px">5</text>
<text x="270.40" y="336.00" font-size="8.2" text-anchor="start" fill="#141414" textLength="7.20" lengthAdjust="spacingAndGlyphs">β3</text>
<line x1="47.20" y1="420.20" x2="339.00" y2="420.20" stroke="#141414" stroke-width="1.1"/>
<path d="M343.4,420.2 L337.8,417.9 L337.8,422.5 Z" fill="#111"/>
<line x1="92.30" y1="428.20" x2="106.20" y2="428.20" stroke="#72b046" stroke-width="1.9"/>
<text x="109.20" y="430.60" font-size="8.4" text-anchor="start" fill="#141414" textLength="51.40" lengthAdjust="spacingAndGlyphs">Isotype control</text>
<line x1="181.50" y1="427.70" x2="193.80" y2="427.70" stroke="#c53f66" stroke-width="1.5"/>
<text x="197.20" y="430.10" font-size="8.7" text-anchor="start" fill="#141414" textLength="11.60" lengthAdjust="spacingAndGlyphs">WT</text>
<line x1="226.10" y1="427.70" x2="238.60" y2="427.70" stroke="#6580b4" stroke-width="1.5"/>
<text x="241.50" y="430.10" font-size="8.7" text-anchor="start" fill="#141414" textLength="15.30" lengthAdjust="spacingAndGlyphs">Tln1</text>
<text x="257.80" y="427.20" font-size="5.4" text-anchor="start" fill="#141414" textLength="13.50" lengthAdjust="spacingAndGlyphs" style="stroke-width:0.12px">3mut</text>
<text x="302.50" y="429.80" font-size="8.6" text-anchor="start" fill="#141414" textLength="35.70" lengthAdjust="spacingAndGlyphs">Intensity</text>
<line x1="406.60" y1="328.30" x2="406.60" y2="410.00" stroke="#141414" stroke-width="1.4"/>
<line x1="405.90" y1="409.30" x2="455.60" y2="409.30" stroke="#141414" stroke-width="1.4"/>
<line x1="404.30" y1="409.30" x2="406.60" y2="409.30" stroke="#141414" stroke-width="0.9"/>
<text x="400.60" y="411.90" font-size="8.1" text-anchor="end" fill="#141414" textLength="4.20" lengthAdjust="spacingAndGlyphs">0</text>
<line x1="404.30" y1="399.15" x2="406.60" y2="399.15" stroke="#141414" stroke-width="0.9"/>
<text x="400.60" y="401.75" font-size="8.1" text-anchor="end" fill="#141414" textLength="4.20" lengthAdjust="spacingAndGlyphs">5</text>
<line x1="404.30" y1="389.00" x2="406.60" y2="389.00" stroke="#141414" stroke-width="0.9"/>
<text x="400.60" y="391.60" font-size="8.1" text-anchor="end" fill="#141414" textLength="8.50" lengthAdjust="spacingAndGlyphs">10</text>
<line x1="404.30" y1="378.85" x2="406.60" y2="378.85" stroke="#141414" stroke-width="0.9"/>
<text x="400.60" y="381.45" font-size="8.1" text-anchor="end" fill="#141414" textLength="8.50" lengthAdjust="spacingAndGlyphs">15</text>
<line x1="404.30" y1="368.70" x2="406.60" y2="368.70" stroke="#141414" stroke-width="0.9"/>
<text x="400.60" y="371.30" font-size="8.1" text-anchor="end" fill="#141414" textLength="8.50" lengthAdjust="spacingAndGlyphs">20</text>
<line x1="404.30" y1="358.55" x2="406.60" y2="358.55" stroke="#141414" stroke-width="0.9"/>
<text x="400.60" y="361.15" font-size="8.1" text-anchor="end" fill="#141414" textLength="8.50" lengthAdjust="spacingAndGlyphs">25</text>
<line x1="404.30" y1="348.40" x2="406.60" y2="348.40" stroke="#141414" stroke-width="0.9"/>
<text x="400.60" y="351.00" font-size="8.1" text-anchor="end" fill="#141414" textLength="8.50" lengthAdjust="spacingAndGlyphs">30</text>
<line x1="404.30" y1="338.25" x2="406.60" y2="338.25" stroke="#141414" stroke-width="0.9"/>
<text x="400.60" y="340.85" font-size="8.1" text-anchor="end" fill="#141414" textLength="8.50" lengthAdjust="spacingAndGlyphs">35</text>
<rect x="411.10" y="400.10" width="8.50" height="9.20" fill="#a9002b"/>
<rect x="419.40" y="401.10" width="1.00" height="8.20" fill="#a9002b"/>
<rect x="419.60" y="400.50" width="8.50" height="8.80" fill="#2c4a80"/>
<rect x="431.50" y="341.00" width="8.20" height="68.30" fill="#a9002b"/>
<rect x="439.50" y="365.80" width="1.00" height="43.50" fill="#a9002b"/>
<rect x="439.70" y="365.20" width="8.50" height="44.10" fill="#2c4a80"/>
<line x1="415.35" y1="399.30" x2="415.35" y2="401.70" stroke="#262626" stroke-width="1.2"/>
<line x1="413.45" y1="399.30" x2="417.25" y2="399.30" stroke="#262626" stroke-width="1.2"/>
<line x1="413.45" y1="401.70" x2="417.25" y2="401.70" stroke="#262626" stroke-width="1.2"/>
<line x1="423.85" y1="399.00" x2="423.85" y2="402.60" stroke="#262626" stroke-width="1.2"/>
<line x1="421.95" y1="399.00" x2="425.75" y2="399.00" stroke="#262626" stroke-width="1.2"/>
<line x1="421.95" y1="402.60" x2="425.75" y2="402.60" stroke="#262626" stroke-width="1.2"/>
<line x1="435.60" y1="331.50" x2="435.60" y2="351.00" stroke="#262626" stroke-width="1.2"/>
<line x1="433.70" y1="331.50" x2="437.50" y2="331.50" stroke="#262626" stroke-width="1.2"/>
<line x1="433.70" y1="351.00" x2="437.50" y2="351.00" stroke="#262626" stroke-width="1.2"/>
<line x1="443.95" y1="352.40" x2="443.95" y2="379.40" stroke="#262626" stroke-width="1.2"/>
<line x1="442.05" y1="352.40" x2="445.85" y2="352.40" stroke="#262626" stroke-width="1.2"/>
<line x1="442.05" y1="379.40" x2="445.85" y2="379.40" stroke="#262626" stroke-width="1.2"/>
<line x1="435.00" y1="328.60" x2="443.70" y2="328.60" stroke="#141414" stroke-width="1.0"/>
<text x="439.40" y="328.79" font-size="7.8" text-anchor="middle" fill="#141414">*</text>
<text transform="translate(385.30,368.40) rotate(-90)" font-size="8.6" text-anchor="middle" fill="#141414" textLength="89.90" lengthAdjust="spacingAndGlyphs">Relative phagocytosis</text>
<text transform="translate(424.30,414.30) rotate(-56)" font-size="7.8" text-anchor="end" fill="#141414" textLength="12.80" lengthAdjust="spacingAndGlyphs">4°C</text>
<text transform="translate(445.90,414.40) rotate(-56)" font-size="7.8" text-anchor="end" fill="#141414" textLength="16.00" lengthAdjust="spacingAndGlyphs">37°C</text>
<rect x="459.00" y="328.10" width="7.90" height="8.20" fill="#a9002b"/>
<rect x="459.00" y="340.90" width="7.90" height="7.90" fill="#2c4a80"/>
<text x="469.40" y="334.60" font-size="8.0" text-anchor="start" fill="#141414" textLength="11.20" lengthAdjust="spacingAndGlyphs">WT</text>
<text x="469.40" y="347.10" font-size="8.4" text-anchor="start" fill="#141414" textLength="14.10" lengthAdjust="spacingAndGlyphs">Tln1</text>
<text x="483.60" y="343.80" font-size="5.4" text-anchor="start" fill="#141414" textLength="14.50" lengthAdjust="spacingAndGlyphs" style="stroke-width:0.12px">3mut</text>
</svg>
</body></html>
